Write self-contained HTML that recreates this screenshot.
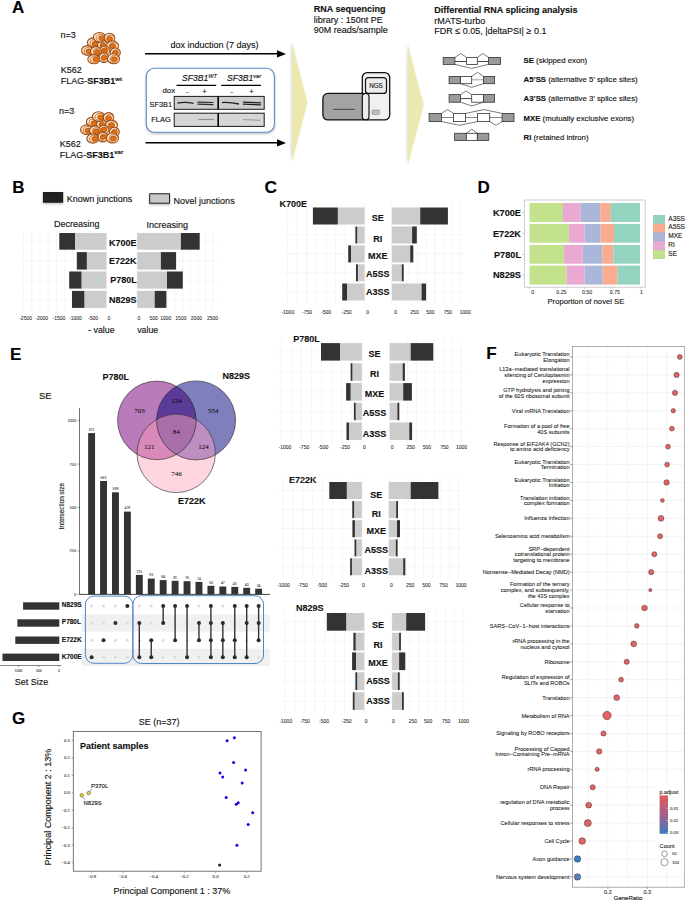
<!DOCTYPE html>
<html><head><meta charset="utf-8"><style>
html,body{margin:0;padding:0;background:#fff;}
body{width:685px;height:900px;overflow:hidden;}
svg{display:block;font-family:"Liberation Sans", sans-serif;}
svg text{stroke:#1a1a1a;stroke-width:0.14px;}
</style></head><body>
<svg width="685" height="900" viewBox="0 0 685 900">
<rect width="685" height="900" fill="#fff"/>
<defs><filter id="sh" x="-20%" y="-20%" width="140%" height="160%"><feDropShadow dx="0" dy="1.2" stdDeviation="0.9" flood-color="#000" flood-opacity="0.28"/></filter>
<filter id="shl" x="-30%" y="-5%" width="160%" height="110%"><feDropShadow dx="-1" dy="0" stdDeviation="1" flood-color="#556" flood-opacity="0.25"/></filter></defs>
<text x="12.00" y="13.30" font-size="17" font-weight="bold" fill="#000" style="stroke-width:0.140px">A</text>
<g transform="translate(0,0)">
<ellipse cx="93.4" cy="42.5" rx="6.0" ry="4.6" fill="#fde4cc" stroke="#9c4c12" stroke-width="1.1"/>
<ellipse cx="94.60000000000001" cy="43.0" rx="4.5" ry="3.4999999999999996" fill="#fcd8b8" stroke="#b05a1a" stroke-width="0.7"/>
<ellipse cx="95.1" cy="43.8" rx="2.9" ry="2.4" fill="#e8700c" stroke="#9c4c12" stroke-width="0.7"/>
<ellipse cx="103.0" cy="45.0" rx="5.5" ry="4.6" fill="#fde4cc" stroke="#9c4c12" stroke-width="1.1"/>
<ellipse cx="104.2" cy="45.5" rx="4.0" ry="3.4999999999999996" fill="#fcd8b8" stroke="#b05a1a" stroke-width="0.7"/>
<ellipse cx="103.2" cy="45.6" rx="2.9" ry="2.4" fill="#e8700c" stroke="#9c4c12" stroke-width="0.7"/>
<ellipse cx="99.5" cy="37.3" rx="6.1" ry="4.8" fill="#fde4cc" stroke="#9c4c12" stroke-width="1.1"/>
<ellipse cx="100.7" cy="37.8" rx="4.6" ry="3.6999999999999997" fill="#fcd8b8" stroke="#b05a1a" stroke-width="0.7"/>
<ellipse cx="101.7" cy="38.1" rx="2.9" ry="2.4" fill="#e8700c" stroke="#9c4c12" stroke-width="0.7"/>
<ellipse cx="109.6" cy="38.1" rx="5.2" ry="4.8" fill="#fde4cc" stroke="#9c4c12" stroke-width="1.1"/>
<ellipse cx="110.8" cy="38.6" rx="3.7" ry="3.6999999999999997" fill="#fcd8b8" stroke="#b05a1a" stroke-width="0.7"/>
<ellipse cx="109.6" cy="39.0" rx="2.9" ry="2.4" fill="#e8700c" stroke="#9c4c12" stroke-width="0.7"/>
<ellipse cx="112.6" cy="45.6" rx="6.0" ry="4.6" fill="#fde4cc" stroke="#9c4c12" stroke-width="1.1"/>
<ellipse cx="113.8" cy="46.1" rx="4.5" ry="3.4999999999999996" fill="#fcd8b8" stroke="#b05a1a" stroke-width="0.7"/>
<ellipse cx="112.6" cy="46.0" rx="2.9" ry="2.4" fill="#e8700c" stroke="#9c4c12" stroke-width="0.7"/>
<ellipse cx="104.8" cy="50.4" rx="5.0" ry="4.4" fill="#fde4cc" stroke="#9c4c12" stroke-width="1.1"/>
<ellipse cx="106.0" cy="50.9" rx="3.5" ry="3.3000000000000003" fill="#fcd8b8" stroke="#b05a1a" stroke-width="0.7"/>
<ellipse cx="104.8" cy="50.4" rx="2.9" ry="2.4" fill="#e8700c" stroke="#9c4c12" stroke-width="0.7"/>
<ellipse cx="115.3" cy="52.6" rx="5.0" ry="4.6" fill="#fde4cc" stroke="#9c4c12" stroke-width="1.1"/>
<ellipse cx="116.5" cy="53.1" rx="3.5" ry="3.4999999999999996" fill="#fcd8b8" stroke="#b05a1a" stroke-width="0.7"/>
<ellipse cx="115.3" cy="53.0" rx="2.9" ry="2.4" fill="#e8700c" stroke="#9c4c12" stroke-width="0.7"/>
<ellipse cx="87.3" cy="50.4" rx="5.7" ry="4.8" fill="#fde4cc" stroke="#9c4c12" stroke-width="1.1"/>
<ellipse cx="88.5" cy="50.9" rx="4.2" ry="3.6999999999999997" fill="#fcd8b8" stroke="#b05a1a" stroke-width="0.7"/>
<ellipse cx="89.0" cy="51.3" rx="2.9" ry="2.4" fill="#e8700c" stroke="#9c4c12" stroke-width="0.7"/>
<ellipse cx="96.0" cy="51.3" rx="5.5" ry="4.6" fill="#fde4cc" stroke="#9c4c12" stroke-width="1.1"/>
<ellipse cx="97.2" cy="51.8" rx="4.0" ry="3.4999999999999996" fill="#fcd8b8" stroke="#b05a1a" stroke-width="0.7"/>
<ellipse cx="97.3" cy="52.1" rx="2.9" ry="2.4" fill="#e8700c" stroke="#9c4c12" stroke-width="0.7"/>
<ellipse cx="103.9" cy="57.8" rx="5.0" ry="4.8" fill="#fde4cc" stroke="#9c4c12" stroke-width="1.1"/>
<ellipse cx="105.10000000000001" cy="58.3" rx="3.5" ry="3.6999999999999997" fill="#fcd8b8" stroke="#b05a1a" stroke-width="0.7"/>
<ellipse cx="104.2" cy="57.8" rx="2.9" ry="2.4" fill="#e8700c" stroke="#9c4c12" stroke-width="0.7"/>
<ellipse cx="93.8" cy="59.2" rx="6.0" ry="4.6" fill="#fde4cc" stroke="#9c4c12" stroke-width="1.1"/>
<ellipse cx="95.0" cy="59.7" rx="4.5" ry="3.4999999999999996" fill="#fcd8b8" stroke="#b05a1a" stroke-width="0.7"/>
<ellipse cx="96.0" cy="59.6" rx="2.9" ry="2.4" fill="#e8700c" stroke="#9c4c12" stroke-width="0.7"/>
<ellipse cx="113.5" cy="58.7" rx="6.0" ry="5.0" fill="#fde4cc" stroke="#9c4c12" stroke-width="1.1"/>
<ellipse cx="114.7" cy="59.2" rx="4.5" ry="3.9" fill="#fcd8b8" stroke="#b05a1a" stroke-width="0.7"/>
<ellipse cx="114.4" cy="59.2" rx="2.9" ry="2.4" fill="#e8700c" stroke="#9c4c12" stroke-width="0.7"/>
</g>
<g transform="translate(-1,79.3)">
<ellipse cx="93.4" cy="42.5" rx="6.0" ry="4.6" fill="#fde4cc" stroke="#9c4c12" stroke-width="1.1"/>
<ellipse cx="94.60000000000001" cy="43.0" rx="4.5" ry="3.4999999999999996" fill="#fcd8b8" stroke="#b05a1a" stroke-width="0.7"/>
<ellipse cx="95.1" cy="43.8" rx="2.9" ry="2.4" fill="#e8700c" stroke="#9c4c12" stroke-width="0.7"/>
<ellipse cx="103.0" cy="45.0" rx="5.5" ry="4.6" fill="#fde4cc" stroke="#9c4c12" stroke-width="1.1"/>
<ellipse cx="104.2" cy="45.5" rx="4.0" ry="3.4999999999999996" fill="#fcd8b8" stroke="#b05a1a" stroke-width="0.7"/>
<ellipse cx="103.2" cy="45.6" rx="2.9" ry="2.4" fill="#e8700c" stroke="#9c4c12" stroke-width="0.7"/>
<ellipse cx="99.5" cy="37.3" rx="6.1" ry="4.8" fill="#fde4cc" stroke="#9c4c12" stroke-width="1.1"/>
<ellipse cx="100.7" cy="37.8" rx="4.6" ry="3.6999999999999997" fill="#fcd8b8" stroke="#b05a1a" stroke-width="0.7"/>
<ellipse cx="101.7" cy="38.1" rx="2.9" ry="2.4" fill="#e8700c" stroke="#9c4c12" stroke-width="0.7"/>
<ellipse cx="109.6" cy="38.1" rx="5.2" ry="4.8" fill="#fde4cc" stroke="#9c4c12" stroke-width="1.1"/>
<ellipse cx="110.8" cy="38.6" rx="3.7" ry="3.6999999999999997" fill="#fcd8b8" stroke="#b05a1a" stroke-width="0.7"/>
<ellipse cx="109.6" cy="39.0" rx="2.9" ry="2.4" fill="#e8700c" stroke="#9c4c12" stroke-width="0.7"/>
<ellipse cx="112.6" cy="45.6" rx="6.0" ry="4.6" fill="#fde4cc" stroke="#9c4c12" stroke-width="1.1"/>
<ellipse cx="113.8" cy="46.1" rx="4.5" ry="3.4999999999999996" fill="#fcd8b8" stroke="#b05a1a" stroke-width="0.7"/>
<ellipse cx="112.6" cy="46.0" rx="2.9" ry="2.4" fill="#e8700c" stroke="#9c4c12" stroke-width="0.7"/>
<ellipse cx="104.8" cy="50.4" rx="5.0" ry="4.4" fill="#fde4cc" stroke="#9c4c12" stroke-width="1.1"/>
<ellipse cx="106.0" cy="50.9" rx="3.5" ry="3.3000000000000003" fill="#fcd8b8" stroke="#b05a1a" stroke-width="0.7"/>
<ellipse cx="104.8" cy="50.4" rx="2.9" ry="2.4" fill="#e8700c" stroke="#9c4c12" stroke-width="0.7"/>
<ellipse cx="115.3" cy="52.6" rx="5.0" ry="4.6" fill="#fde4cc" stroke="#9c4c12" stroke-width="1.1"/>
<ellipse cx="116.5" cy="53.1" rx="3.5" ry="3.4999999999999996" fill="#fcd8b8" stroke="#b05a1a" stroke-width="0.7"/>
<ellipse cx="115.3" cy="53.0" rx="2.9" ry="2.4" fill="#e8700c" stroke="#9c4c12" stroke-width="0.7"/>
<ellipse cx="87.3" cy="50.4" rx="5.7" ry="4.8" fill="#fde4cc" stroke="#9c4c12" stroke-width="1.1"/>
<ellipse cx="88.5" cy="50.9" rx="4.2" ry="3.6999999999999997" fill="#fcd8b8" stroke="#b05a1a" stroke-width="0.7"/>
<ellipse cx="89.0" cy="51.3" rx="2.9" ry="2.4" fill="#e8700c" stroke="#9c4c12" stroke-width="0.7"/>
<ellipse cx="96.0" cy="51.3" rx="5.5" ry="4.6" fill="#fde4cc" stroke="#9c4c12" stroke-width="1.1"/>
<ellipse cx="97.2" cy="51.8" rx="4.0" ry="3.4999999999999996" fill="#fcd8b8" stroke="#b05a1a" stroke-width="0.7"/>
<ellipse cx="97.3" cy="52.1" rx="2.9" ry="2.4" fill="#e8700c" stroke="#9c4c12" stroke-width="0.7"/>
<ellipse cx="103.9" cy="57.8" rx="5.0" ry="4.8" fill="#fde4cc" stroke="#9c4c12" stroke-width="1.1"/>
<ellipse cx="105.10000000000001" cy="58.3" rx="3.5" ry="3.6999999999999997" fill="#fcd8b8" stroke="#b05a1a" stroke-width="0.7"/>
<ellipse cx="104.2" cy="57.8" rx="2.9" ry="2.4" fill="#e8700c" stroke="#9c4c12" stroke-width="0.7"/>
<ellipse cx="93.8" cy="59.2" rx="6.0" ry="4.6" fill="#fde4cc" stroke="#9c4c12" stroke-width="1.1"/>
<ellipse cx="95.0" cy="59.7" rx="4.5" ry="3.4999999999999996" fill="#fcd8b8" stroke="#b05a1a" stroke-width="0.7"/>
<ellipse cx="96.0" cy="59.6" rx="2.9" ry="2.4" fill="#e8700c" stroke="#9c4c12" stroke-width="0.7"/>
<ellipse cx="113.5" cy="58.7" rx="6.0" ry="5.0" fill="#fde4cc" stroke="#9c4c12" stroke-width="1.1"/>
<ellipse cx="114.7" cy="59.2" rx="4.5" ry="3.9" fill="#fcd8b8" stroke="#b05a1a" stroke-width="0.7"/>
<ellipse cx="114.4" cy="59.2" rx="2.9" ry="2.4" fill="#e8700c" stroke="#9c4c12" stroke-width="0.7"/>
</g>
<text x="60.50" y="37.60" font-size="9" fill="#111" style="stroke-width:0.140px">n=3</text>
<text x="60.80" y="72.70" font-size="9" fill="#111" style="stroke-width:0.140px">K562</text>
<text x="60.8" y="84" font-size="9" fill="#111">FLAG-<tspan font-weight="bold">SF3B1</tspan><tspan font-size="6" dy="-3.3" font-weight="bold">wt</tspan></text>
<text x="59.10" y="113.80" font-size="9" fill="#111" style="stroke-width:0.140px">n=3</text>
<text x="59.70" y="146.70" font-size="9" fill="#111" style="stroke-width:0.140px">K562</text>
<text x="59.7" y="157.6" font-size="9" fill="#111">FLAG-<tspan font-weight="bold">SF3B1</tspan><tspan font-size="6" dy="-3.3" font-weight="bold">var</tspan></text>
<line x1="145.00" y1="53.80" x2="279.00" y2="53.80" stroke="#000" stroke-width="1.6"/>
<polygon points="277,50.3 286,54 277,57.6" fill="#000"/>
<line x1="145.50" y1="142.80" x2="279.00" y2="142.80" stroke="#000" stroke-width="1.6"/>
<polygon points="277,139.3 286,143 277,146.6" fill="#000"/>
<text x="170.40" y="48.20" font-size="9" fill="#111" style="stroke-width:0.140px">dox induction (7 days)</text>
<rect x="146.3" y="68.3" width="128.1" height="64" rx="8" fill="#fff" stroke="#5b8bc9" stroke-width="1.1" filter="url(#sh)"/>
<text x="182" y="81.4" font-size="8.6" font-style="italic" fill="#111">SF3B1<tspan font-size="5.6" dy="-3">WT</tspan></text>
<text x="227" y="81.4" font-size="8.6" font-style="italic" fill="#111">SF3B1<tspan font-size="5.6" dy="-3">var</tspan></text>
<line x1="176.50" y1="85.40" x2="216.20" y2="85.40" stroke="#000" stroke-width="1.3"/>
<line x1="221.20" y1="85.40" x2="261.00" y2="85.40" stroke="#000" stroke-width="1.3"/>
<text x="162.60" y="93.30" font-size="7.7" fill="#111" style="stroke-width:0.140px">dox</text>
<text x="187.30" y="94.20" font-size="7.7" text-anchor="middle" fill="#111" style="stroke-width:0.140px">-</text>
<text x="204.40" y="94.20" font-size="7.7" text-anchor="middle" fill="#111" style="stroke-width:0.140px">+</text>
<text x="231.70" y="94.20" font-size="7.7" text-anchor="middle" fill="#111" style="stroke-width:0.140px">-</text>
<text x="251.40" y="94.20" font-size="7.7" text-anchor="middle" fill="#111" style="stroke-width:0.140px">+</text>
<text x="149.50" y="107.30" font-size="7.4" fill="#111" style="stroke-width:0.140px">SF3B1</text>
<text x="151.20" y="122.40" font-size="7.6" fill="#111" style="stroke-width:0.140px">FLAG</text>
<rect x="174.2" y="96.4" width="90" height="12.899999999999991" fill="#cdcdcd" stroke="#1a1a1a" stroke-width="1"/>
<line x1="218.20" y1="96.40" x2="218.20" y2="109.30" stroke="#000" stroke-width="1.6"/>
<rect x="174.2" y="113.2" width="90" height="13.200000000000003" fill="#d6d6d6" stroke="#1a1a1a" stroke-width="1"/>
<line x1="218.20" y1="113.20" x2="218.20" y2="126.40" stroke="#000" stroke-width="1.6"/>
<path d="M177.5,103 Q186,101.6 193.5,103.4" stroke="#222" stroke-width="1.3" fill="none"/>
<path d="M197.5,102.1 L213.5,102.5 M197.5,104.1 L213.5,104.6" stroke="#2a2a2a" stroke-width="1.1" fill="none"/>
<path d="M222,102.6 Q230,102 239,104" stroke="#222" stroke-width="1.3" fill="none"/>
<path d="M243,102.1 L261,102.9 M243,104.1 L261,104.9" stroke="#1e1e1e" stroke-width="1.2" fill="none"/>
<path d="M198,119.6 L214,119.3" stroke="#777" stroke-width="0.8" fill="none"/>
<path d="M243,119.6 L260,120.3" stroke="#888" stroke-width="0.8" fill="none"/>
<polygon points="292.1,42.4 307.4,102.4 292.1,162" fill="#ebe9ae" filter="url(#shl)"/>
<polygon points="407.9,45.0 423.7,105 407.9,164.7" fill="#ebe9ae" filter="url(#shl)"/>
<text x="313.80" y="11.70" font-size="9" font-weight="bold" fill="#111" style="stroke-width:0.140px">RNA sequencing</text>
<text x="313.80" y="22.50" font-size="9" fill="#111" style="stroke-width:0.140px">library : 150nt PE</text>
<text x="313.80" y="33.20" font-size="9" fill="#111" style="stroke-width:0.140px">90M reads/sample</text>
<rect x="362.3" y="72.6" width="27.4" height="47.3" rx="5" fill="#f0f0f0" stroke="#111" stroke-width="1.3"/>
<rect x="365.5" y="77.6" width="21" height="15.8" rx="3" fill="#ececec" stroke="#111" stroke-width="1.2"/>
<text x="376.00" y="88.30" font-size="6.3" text-anchor="middle" fill="#222" style="stroke-width:0.140px">NGS</text>
<rect x="322.9" y="93.4" width="45" height="26.5" rx="5" fill="#a3a3a3" stroke="#111" stroke-width="1.3"/>
<rect x="362.3" y="93.4" width="6.7" height="26.5" rx="3.3" fill="#ececec" stroke="#111" stroke-width="1.2"/>
<line x1="333.10" y1="109.40" x2="355.00" y2="109.40" stroke="#555" stroke-width="1.2"/>
<rect x="372" y="110" width="7.6" height="4.6" rx="1" fill="#bdbdbd" stroke="#8a8a8a" stroke-width="0.6"/>
<text x="434.30" y="13.20" font-size="9" font-weight="bold" fill="#111" style="stroke-width:0.140px">Differential RNA splicing analysis</text>
<text x="434.30" y="24.20" font-size="9" fill="#111" style="stroke-width:0.140px">rMATS-turbo</text>
<text x="434.30" y="34.40" font-size="9" fill="#111" style="stroke-width:0.140px">FDR ≤ 0.05, |deltaPSI| ≥ 0.1</text>
<polyline points="454.9,61.5 466.6,61.5" fill="none" stroke="#333" stroke-width="0.9"/>
<polyline points="477.3,61.5 488.5,61.5" fill="none" stroke="#333" stroke-width="0.9"/>
<polyline points="454.9,57.4 460.7,53.5 466.6,57.4" fill="none" stroke="#444" stroke-width="0.7"/>
<polyline points="477.3,57.4 482.9,53.5 488.5,57.4" fill="none" stroke="#444" stroke-width="0.7"/>
<polyline points="454.9,64.4 471.7,68.4 488.5,64.4" fill="none" stroke="#444" stroke-width="0.7"/>
<rect x="443.2" y="57.4" width="11.70" height="7.00" fill="#9a9a9a" stroke="#333" stroke-width="0.8"/>
<rect x="466.6" y="57.4" width="10.70" height="7.00" fill="#fff" stroke="#333" stroke-width="0.8"/>
<rect x="488.5" y="57.4" width="12.00" height="7.00" fill="#9a9a9a" stroke="#333" stroke-width="0.8"/>
<polyline points="471.7,79.8 483.4,79.8" fill="none" stroke="#999" stroke-width="0.9"/>
<polyline points="471.7,76.4 477.5,72.3 483.4,76.4" fill="none" stroke="#444" stroke-width="0.7"/>
<polyline points="460.5,83.7 471.7,87.3 483.4,83.7" fill="none" stroke="#444" stroke-width="0.7"/>
<rect x="449.1" y="76.4" width="11.40" height="7.30" fill="#9a9a9a" stroke="#333" stroke-width="0.8"/>
<rect x="460.5" y="76.4" width="11.20" height="7.30" fill="#fff" stroke="#333" stroke-width="0.8"/>
<rect x="483.4" y="76.4" width="11.20" height="7.30" fill="#9a9a9a" stroke="#333" stroke-width="0.8"/>
<polyline points="460.5,98.6 471.7,98.6" fill="none" stroke="#333" stroke-width="0.9"/>
<polyline points="460.5,94.6 466.1,91.0 471.7,94.6" fill="none" stroke="#444" stroke-width="0.7"/>
<polyline points="460.5,102.2 471.9,106 483.4,102.2" fill="none" stroke="#444" stroke-width="0.7"/>
<rect x="449.1" y="94.6" width="11.40" height="7.60" fill="#9a9a9a" stroke="#333" stroke-width="0.8"/>
<rect x="471.7" y="94.6" width="11.70" height="7.60" fill="#fff" stroke="#333" stroke-width="0.8"/>
<rect x="483.4" y="94.6" width="11.20" height="7.60" fill="#9a9a9a" stroke="#333" stroke-width="0.8"/>
<polyline points="441.5,117.5 453.5,117.5" fill="none" stroke="#666" stroke-width="0.8"/>
<polyline points="465.6,117.5 477.6,117.5" fill="none" stroke="#666" stroke-width="0.8"/>
<polyline points="489.7,117.5 502.1,117.5" fill="none" stroke="#666" stroke-width="0.8"/>
<polyline points="441.5,113.4 447.5,109.6 453.5,113.4" fill="none" stroke="#444" stroke-width="0.7"/>
<polyline points="465.6,113.4 483.8,109.6 502.1,113.4" fill="none" stroke="#444" stroke-width="0.7"/>
<polyline points="441.5,121.6 459.5,125.3 477.6,121.6" fill="none" stroke="#444" stroke-width="0.7"/>
<polyline points="489.7,121.6 496,125.3 502.1,121.6" fill="none" stroke="#444" stroke-width="0.7"/>
<rect x="429.1" y="113.4" width="12.40" height="8.20" fill="#9a9a9a" stroke="#333" stroke-width="0.8"/>
<rect x="453.5" y="113.4" width="12.10" height="8.20" fill="#fff" stroke="#333" stroke-width="0.8"/>
<rect x="477.6" y="113.4" width="12.10" height="8.20" fill="#fff" stroke="#333" stroke-width="0.8"/>
<rect x="502.1" y="113.4" width="11.90" height="8.20" fill="#9a9a9a" stroke="#333" stroke-width="0.8"/>
<polyline points="466.3,133.3 471.8,129.2 477.3,133.3" fill="none" stroke="#444" stroke-width="0.7"/>
<rect x="454.6" y="133.3" width="11.70" height="7.10" fill="#9a9a9a" stroke="#333" stroke-width="0.8"/>
<rect x="466.3" y="133.3" width="11.00" height="7.10" fill="#fff" stroke="#333" stroke-width="0.8"/>
<rect x="477.3" y="133.3" width="11.50" height="7.10" fill="#9a9a9a" stroke="#333" stroke-width="0.8"/>
<text x="523.5" y="62.9" font-size="7.8" fill="#111"><tspan font-weight="bold">SE</tspan> (skipped exon)</text>
<text x="523.5" y="81.9" font-size="7.8" fill="#111"><tspan font-weight="bold">A5’SS</tspan> (alternative 5’ splice sites)</text>
<text x="523.5" y="101.2" font-size="7.8" fill="#111"><tspan font-weight="bold">A3’SS</tspan> (alternative 3’ splice sites)</text>
<text x="523.5" y="120.6" font-size="7.8" fill="#111"><tspan font-weight="bold">MXE</tspan> (mutually exclusive exons)</text>
<text x="523.5" y="140.1" font-size="7.8" fill="#111"><tspan font-weight="bold">RI</tspan> (retained intron)</text>
<text x="12.30" y="193.00" font-size="17" font-weight="bold" fill="#000" style="stroke-width:0.140px">B</text>
<rect x="43.3" y="192.4" width="19.5" height="9.8" fill="#242424" stroke="#000" stroke-width="0.7" filter="url(#sh)"/>
<text x="66.80" y="201.60" font-size="9" fill="#111" style="stroke-width:0.140px">Known junctions</text>
<rect x="149.7" y="193.8" width="19.8" height="9.4" fill="#c8c8c8" stroke="#222" stroke-width="1" filter="url(#sh)"/>
<text x="173.60" y="203.60" font-size="9" fill="#111" style="stroke-width:0.140px">Novel junctions</text>
<text x="54.10" y="226.60" font-size="9" fill="#111" style="stroke-width:0.140px">Decreasing</text>
<text x="146.60" y="227.70" font-size="9" fill="#111" style="stroke-width:0.140px">Increasing</text>
<line x1="106.40" y1="231.50" x2="106.40" y2="310.00" stroke="#ececec" stroke-width="0.5"/>
<line x1="98.10" y1="231.50" x2="98.10" y2="310.00" stroke="#ececec" stroke-width="0.5"/>
<line x1="89.80" y1="231.50" x2="89.80" y2="310.00" stroke="#ececec" stroke-width="0.5"/>
<line x1="81.50" y1="231.50" x2="81.50" y2="310.00" stroke="#ececec" stroke-width="0.5"/>
<line x1="73.20" y1="231.50" x2="73.20" y2="310.00" stroke="#ececec" stroke-width="0.5"/>
<line x1="64.90" y1="231.50" x2="64.90" y2="310.00" stroke="#ececec" stroke-width="0.5"/>
<line x1="56.60" y1="231.50" x2="56.60" y2="310.00" stroke="#ececec" stroke-width="0.5"/>
<line x1="48.30" y1="231.50" x2="48.30" y2="310.00" stroke="#ececec" stroke-width="0.5"/>
<line x1="40.00" y1="231.50" x2="40.00" y2="310.00" stroke="#ececec" stroke-width="0.5"/>
<line x1="31.70" y1="231.50" x2="31.70" y2="310.00" stroke="#ececec" stroke-width="0.5"/>
<line x1="23.40" y1="231.50" x2="23.40" y2="310.00" stroke="#ececec" stroke-width="0.5"/>
<line x1="137.20" y1="231.50" x2="137.20" y2="310.00" stroke="#ececec" stroke-width="0.5"/>
<line x1="144.80" y1="231.50" x2="144.80" y2="310.00" stroke="#ececec" stroke-width="0.5"/>
<line x1="152.40" y1="231.50" x2="152.40" y2="310.00" stroke="#ececec" stroke-width="0.5"/>
<line x1="160.00" y1="231.50" x2="160.00" y2="310.00" stroke="#ececec" stroke-width="0.5"/>
<line x1="167.60" y1="231.50" x2="167.60" y2="310.00" stroke="#ececec" stroke-width="0.5"/>
<line x1="175.20" y1="231.50" x2="175.20" y2="310.00" stroke="#ececec" stroke-width="0.5"/>
<line x1="182.80" y1="231.50" x2="182.80" y2="310.00" stroke="#ececec" stroke-width="0.5"/>
<line x1="190.40" y1="231.50" x2="190.40" y2="310.00" stroke="#ececec" stroke-width="0.5"/>
<line x1="198.00" y1="231.50" x2="198.00" y2="310.00" stroke="#ececec" stroke-width="0.5"/>
<line x1="205.60" y1="231.50" x2="205.60" y2="310.00" stroke="#ececec" stroke-width="0.5"/>
<line x1="213.20" y1="231.50" x2="213.20" y2="310.00" stroke="#ececec" stroke-width="0.5"/>
<line x1="19.50" y1="241.35" x2="106.40" y2="241.35" stroke="#ececec" stroke-width="0.5"/>
<line x1="137.20" y1="241.35" x2="218.00" y2="241.35" stroke="#ececec" stroke-width="0.5"/>
<line x1="19.50" y1="260.85" x2="106.40" y2="260.85" stroke="#ececec" stroke-width="0.5"/>
<line x1="137.20" y1="260.85" x2="218.00" y2="260.85" stroke="#ececec" stroke-width="0.5"/>
<line x1="19.50" y1="280.05" x2="106.40" y2="280.05" stroke="#ececec" stroke-width="0.5"/>
<line x1="137.20" y1="280.05" x2="218.00" y2="280.05" stroke="#ececec" stroke-width="0.5"/>
<line x1="19.50" y1="299.40" x2="106.40" y2="299.40" stroke="#ececec" stroke-width="0.5"/>
<line x1="137.20" y1="299.40" x2="218.00" y2="299.40" stroke="#ececec" stroke-width="0.5"/>
<rect x="59.30" y="233.00" width="15.80" height="16.70" fill="#333333"/>
<rect x="75.10" y="233.00" width="31.30" height="16.70" fill="#cccccc"/>
<rect x="137.20" y="233.00" width="43.70" height="16.70" fill="#cccccc"/>
<rect x="180.90" y="233.00" width="18.80" height="16.70" fill="#333333"/>
<rect x="76.80" y="252.10" width="10.10" height="17.50" fill="#333333"/>
<rect x="86.90" y="252.10" width="19.50" height="17.50" fill="#cccccc"/>
<rect x="137.20" y="252.10" width="23.70" height="17.50" fill="#cccccc"/>
<rect x="160.90" y="252.10" width="15.20" height="17.50" fill="#333333"/>
<rect x="69.20" y="271.50" width="12.50" height="17.10" fill="#333333"/>
<rect x="81.70" y="271.50" width="24.70" height="17.10" fill="#cccccc"/>
<rect x="137.20" y="271.50" width="29.80" height="17.10" fill="#cccccc"/>
<rect x="167.00" y="271.50" width="15.80" height="17.10" fill="#333333"/>
<rect x="72.00" y="290.90" width="12.60" height="17.00" fill="#333333"/>
<rect x="84.60" y="290.90" width="21.80" height="17.00" fill="#cccccc"/>
<rect x="137.20" y="290.90" width="17.50" height="17.00" fill="#cccccc"/>
<rect x="154.70" y="290.90" width="11.70" height="17.00" fill="#333333"/>
<text x="109.00" y="245.50" font-size="9" font-weight="bold" fill="#111" style="stroke-width:0.140px">K700E</text>
<text x="109.00" y="263.50" font-size="9" font-weight="bold" fill="#111" style="stroke-width:0.140px">E722K</text>
<text x="110.20" y="283.30" font-size="9" font-weight="bold" fill="#111" style="stroke-width:0.140px">P780L</text>
<text x="109.00" y="302.50" font-size="9" font-weight="bold" fill="#111" style="stroke-width:0.140px">N829S</text>
<text x="25.60" y="319.60" font-size="5" text-anchor="middle" fill="#333" style="stroke-width:0.080px">-2500</text>
<text x="41.70" y="319.60" font-size="5" text-anchor="middle" fill="#333" style="stroke-width:0.080px">-2000</text>
<text x="59.00" y="319.60" font-size="5" text-anchor="middle" fill="#333" style="stroke-width:0.080px">-1500</text>
<text x="75.50" y="319.60" font-size="5" text-anchor="middle" fill="#333" style="stroke-width:0.080px">-1000</text>
<text x="93.10" y="319.60" font-size="5" text-anchor="middle" fill="#333" style="stroke-width:0.080px">-500</text>
<text x="108.80" y="319.60" font-size="5" text-anchor="middle" fill="#333" style="stroke-width:0.080px">0</text>
<text x="138.90" y="319.60" font-size="5" text-anchor="middle" fill="#333" style="stroke-width:0.080px">0</text>
<text x="153.70" y="319.60" font-size="5" text-anchor="middle" fill="#333" style="stroke-width:0.080px">500</text>
<text x="165.70" y="319.60" font-size="5" text-anchor="middle" fill="#333" style="stroke-width:0.080px">1000</text>
<text x="180.90" y="319.60" font-size="5" text-anchor="middle" fill="#333" style="stroke-width:0.080px">1500</text>
<text x="196.40" y="319.60" font-size="5" text-anchor="middle" fill="#333" style="stroke-width:0.080px">2000</text>
<text x="212.60" y="319.60" font-size="5" text-anchor="middle" fill="#333" style="stroke-width:0.080px">2500</text>
<text x="88.20" y="332.70" font-size="8.8" fill="#111" style="stroke-width:0.140px">- value</text>
<text x="137.20" y="332.90" font-size="8.8" fill="#111" style="stroke-width:0.140px">value</text>
<text x="264.40" y="193.30" font-size="17.4" font-weight="bold" fill="#000" style="stroke-width:0.140px">C</text>
<text x="279.60" y="206.60" font-size="9" font-weight="bold" fill="#111" style="stroke-width:0.140px">K700E</text>
<line x1="364.60" y1="203.50" x2="364.60" y2="304.00" stroke="#ececec" stroke-width="0.5"/>
<line x1="391.80" y1="203.50" x2="391.80" y2="304.00" stroke="#ececec" stroke-width="0.5"/>
<line x1="354.95" y1="203.50" x2="354.95" y2="304.00" stroke="#ececec" stroke-width="0.5"/>
<line x1="400.40" y1="203.50" x2="400.40" y2="304.00" stroke="#ececec" stroke-width="0.5"/>
<line x1="345.30" y1="203.50" x2="345.30" y2="304.00" stroke="#ececec" stroke-width="0.5"/>
<line x1="409.00" y1="203.50" x2="409.00" y2="304.00" stroke="#ececec" stroke-width="0.5"/>
<line x1="335.65" y1="203.50" x2="335.65" y2="304.00" stroke="#ececec" stroke-width="0.5"/>
<line x1="417.60" y1="203.50" x2="417.60" y2="304.00" stroke="#ececec" stroke-width="0.5"/>
<line x1="326.00" y1="203.50" x2="326.00" y2="304.00" stroke="#ececec" stroke-width="0.5"/>
<line x1="426.20" y1="203.50" x2="426.20" y2="304.00" stroke="#ececec" stroke-width="0.5"/>
<line x1="316.35" y1="203.50" x2="316.35" y2="304.00" stroke="#ececec" stroke-width="0.5"/>
<line x1="434.80" y1="203.50" x2="434.80" y2="304.00" stroke="#ececec" stroke-width="0.5"/>
<line x1="306.70" y1="203.50" x2="306.70" y2="304.00" stroke="#ececec" stroke-width="0.5"/>
<line x1="443.40" y1="203.50" x2="443.40" y2="304.00" stroke="#ececec" stroke-width="0.5"/>
<line x1="297.05" y1="203.50" x2="297.05" y2="304.00" stroke="#ececec" stroke-width="0.5"/>
<line x1="452.00" y1="203.50" x2="452.00" y2="304.00" stroke="#ececec" stroke-width="0.5"/>
<line x1="287.40" y1="203.50" x2="287.40" y2="304.00" stroke="#ececec" stroke-width="0.5"/>
<line x1="460.60" y1="203.50" x2="460.60" y2="304.00" stroke="#ececec" stroke-width="0.5"/>
<line x1="283.40" y1="216.00" x2="367.60" y2="216.00" stroke="#ececec" stroke-width="0.5"/>
<line x1="388.80" y1="216.00" x2="464.60" y2="216.00" stroke="#ececec" stroke-width="0.5"/>
<line x1="283.40" y1="235.00" x2="367.60" y2="235.00" stroke="#ececec" stroke-width="0.5"/>
<line x1="388.80" y1="235.00" x2="464.60" y2="235.00" stroke="#ececec" stroke-width="0.5"/>
<line x1="283.40" y1="253.90" x2="367.60" y2="253.90" stroke="#ececec" stroke-width="0.5"/>
<line x1="388.80" y1="253.90" x2="464.60" y2="253.90" stroke="#ececec" stroke-width="0.5"/>
<line x1="283.40" y1="272.80" x2="367.60" y2="272.80" stroke="#ececec" stroke-width="0.5"/>
<line x1="388.80" y1="272.80" x2="464.60" y2="272.80" stroke="#ececec" stroke-width="0.5"/>
<line x1="283.40" y1="292.00" x2="367.60" y2="292.00" stroke="#ececec" stroke-width="0.5"/>
<line x1="388.80" y1="292.00" x2="464.60" y2="292.00" stroke="#ececec" stroke-width="0.5"/>
<rect x="337.80" y="207.50" width="26.80" height="17.00" fill="#cccccc"/>
<rect x="391.80" y="207.50" width="28.40" height="17.00" fill="#cccccc"/>
<rect x="312.90" y="207.50" width="24.90" height="17.00" fill="#333333"/>
<rect x="420.20" y="207.50" width="27.70" height="17.00" fill="#333333"/>
<rect x="357.20" y="226.50" width="7.40" height="17.00" fill="#cccccc"/>
<rect x="391.80" y="226.50" width="20.30" height="17.00" fill="#cccccc"/>
<rect x="355.40" y="226.50" width="1.80" height="17.00" fill="#333333"/>
<rect x="412.10" y="226.50" width="4.70" height="17.00" fill="#333333"/>
<rect x="351.00" y="245.40" width="13.60" height="17.00" fill="#cccccc"/>
<rect x="391.80" y="245.40" width="18.40" height="17.00" fill="#cccccc"/>
<rect x="348.20" y="245.40" width="2.80" height="17.00" fill="#333333"/>
<rect x="410.20" y="245.40" width="3.10" height="17.00" fill="#333333"/>
<rect x="357.90" y="264.30" width="6.70" height="17.00" fill="#cccccc"/>
<rect x="391.80" y="264.30" width="10.00" height="17.00" fill="#cccccc"/>
<rect x="356.00" y="264.30" width="1.90" height="17.00" fill="#333333"/>
<rect x="401.80" y="264.30" width="1.90" height="17.00" fill="#333333"/>
<rect x="347.00" y="283.50" width="17.60" height="17.00" fill="#cccccc"/>
<rect x="391.80" y="283.50" width="29.80" height="17.00" fill="#cccccc"/>
<rect x="342.20" y="283.50" width="4.80" height="17.00" fill="#333333"/>
<rect x="421.60" y="283.50" width="4.50" height="17.00" fill="#333333"/>
<text x="377.70" y="220.90" font-size="9" font-weight="bold" text-anchor="middle" fill="#111" style="stroke-width:0.140px">SE</text>
<text x="377.70" y="241.90" font-size="9" font-weight="bold" text-anchor="middle" fill="#111" style="stroke-width:0.140px">RI</text>
<text x="377.70" y="258.90" font-size="9" font-weight="bold" text-anchor="middle" fill="#111" style="stroke-width:0.140px">MXE</text>
<text x="377.70" y="277.30" font-size="9" font-weight="bold" text-anchor="middle" fill="#111" style="stroke-width:0.140px">A5SS</text>
<text x="377.70" y="295.20" font-size="9" font-weight="bold" text-anchor="middle" fill="#111" style="stroke-width:0.140px">A3SS</text>
<text x="287.80" y="313.80" font-size="5" text-anchor="middle" fill="#333" style="stroke-width:0.080px">-1000</text>
<text x="307.10" y="313.80" font-size="5" text-anchor="middle" fill="#333" style="stroke-width:0.080px">-750</text>
<text x="326.10" y="313.80" font-size="5" text-anchor="middle" fill="#333" style="stroke-width:0.080px">-500</text>
<text x="346.50" y="313.80" font-size="5" text-anchor="middle" fill="#333" style="stroke-width:0.080px">-250</text>
<text x="367.70" y="313.80" font-size="5" text-anchor="middle" fill="#333" style="stroke-width:0.080px">0</text>
<text x="395.60" y="313.80" font-size="5" text-anchor="middle" fill="#333" style="stroke-width:0.080px">0</text>
<text x="414.50" y="313.80" font-size="5" text-anchor="middle" fill="#333" style="stroke-width:0.080px">250</text>
<text x="430.30" y="313.80" font-size="5" text-anchor="middle" fill="#333" style="stroke-width:0.080px">500</text>
<text x="447.80" y="313.80" font-size="5" text-anchor="middle" fill="#333" style="stroke-width:0.080px">750</text>
<text x="465.30" y="313.80" font-size="5" text-anchor="middle" fill="#333" style="stroke-width:0.080px">1000</text>
<text x="293.20" y="342.40" font-size="9" font-weight="bold" fill="#111" style="stroke-width:0.140px">P780L</text>
<line x1="361.90" y1="339.10" x2="361.90" y2="443.50" stroke="#ececec" stroke-width="0.5"/>
<line x1="389.70" y1="339.10" x2="389.70" y2="443.50" stroke="#ececec" stroke-width="0.5"/>
<line x1="351.80" y1="339.10" x2="351.80" y2="443.50" stroke="#ececec" stroke-width="0.5"/>
<line x1="398.65" y1="339.10" x2="398.65" y2="443.50" stroke="#ececec" stroke-width="0.5"/>
<line x1="341.70" y1="339.10" x2="341.70" y2="443.50" stroke="#ececec" stroke-width="0.5"/>
<line x1="407.60" y1="339.10" x2="407.60" y2="443.50" stroke="#ececec" stroke-width="0.5"/>
<line x1="331.60" y1="339.10" x2="331.60" y2="443.50" stroke="#ececec" stroke-width="0.5"/>
<line x1="416.55" y1="339.10" x2="416.55" y2="443.50" stroke="#ececec" stroke-width="0.5"/>
<line x1="321.50" y1="339.10" x2="321.50" y2="443.50" stroke="#ececec" stroke-width="0.5"/>
<line x1="425.50" y1="339.10" x2="425.50" y2="443.50" stroke="#ececec" stroke-width="0.5"/>
<line x1="311.40" y1="339.10" x2="311.40" y2="443.50" stroke="#ececec" stroke-width="0.5"/>
<line x1="434.45" y1="339.10" x2="434.45" y2="443.50" stroke="#ececec" stroke-width="0.5"/>
<line x1="301.30" y1="339.10" x2="301.30" y2="443.50" stroke="#ececec" stroke-width="0.5"/>
<line x1="443.40" y1="339.10" x2="443.40" y2="443.50" stroke="#ececec" stroke-width="0.5"/>
<line x1="291.20" y1="339.10" x2="291.20" y2="443.50" stroke="#ececec" stroke-width="0.5"/>
<line x1="452.35" y1="339.10" x2="452.35" y2="443.50" stroke="#ececec" stroke-width="0.5"/>
<line x1="281.10" y1="339.10" x2="281.10" y2="443.50" stroke="#ececec" stroke-width="0.5"/>
<line x1="461.30" y1="339.10" x2="461.30" y2="443.50" stroke="#ececec" stroke-width="0.5"/>
<line x1="277.10" y1="351.85" x2="364.90" y2="351.85" stroke="#ececec" stroke-width="0.5"/>
<line x1="386.70" y1="351.85" x2="465.30" y2="351.85" stroke="#ececec" stroke-width="0.5"/>
<line x1="277.10" y1="372.05" x2="364.90" y2="372.05" stroke="#ececec" stroke-width="0.5"/>
<line x1="386.70" y1="372.05" x2="465.30" y2="372.05" stroke="#ececec" stroke-width="0.5"/>
<line x1="277.10" y1="391.85" x2="364.90" y2="391.85" stroke="#ececec" stroke-width="0.5"/>
<line x1="386.70" y1="391.85" x2="465.30" y2="391.85" stroke="#ececec" stroke-width="0.5"/>
<line x1="277.10" y1="411.45" x2="364.90" y2="411.45" stroke="#ececec" stroke-width="0.5"/>
<line x1="386.70" y1="411.45" x2="465.30" y2="411.45" stroke="#ececec" stroke-width="0.5"/>
<line x1="277.10" y1="431.25" x2="364.90" y2="431.25" stroke="#ececec" stroke-width="0.5"/>
<line x1="386.70" y1="431.25" x2="465.30" y2="431.25" stroke="#ececec" stroke-width="0.5"/>
<rect x="340.00" y="343.10" width="21.90" height="17.50" fill="#cccccc"/>
<rect x="389.70" y="343.10" width="21.00" height="17.50" fill="#cccccc"/>
<rect x="321.00" y="343.10" width="19.00" height="17.50" fill="#333333"/>
<rect x="410.70" y="343.10" width="22.60" height="17.50" fill="#333333"/>
<rect x="352.40" y="363.30" width="9.50" height="17.50" fill="#cccccc"/>
<rect x="389.70" y="363.30" width="13.00" height="17.50" fill="#cccccc"/>
<rect x="350.60" y="363.30" width="1.80" height="17.50" fill="#333333"/>
<rect x="402.70" y="363.30" width="2.20" height="17.50" fill="#333333"/>
<rect x="350.60" y="383.10" width="11.30" height="17.50" fill="#cccccc"/>
<rect x="389.70" y="383.10" width="13.50" height="17.50" fill="#cccccc"/>
<rect x="346.10" y="383.10" width="4.50" height="17.50" fill="#333333"/>
<rect x="403.20" y="383.10" width="8.70" height="17.50" fill="#333333"/>
<rect x="355.70" y="402.70" width="6.20" height="17.50" fill="#cccccc"/>
<rect x="389.70" y="402.70" width="7.70" height="17.50" fill="#cccccc"/>
<rect x="353.90" y="402.70" width="1.80" height="17.50" fill="#333333"/>
<rect x="397.40" y="402.70" width="1.90" height="17.50" fill="#333333"/>
<rect x="349.00" y="422.50" width="12.90" height="17.50" fill="#cccccc"/>
<rect x="389.70" y="422.50" width="19.60" height="17.50" fill="#cccccc"/>
<rect x="346.50" y="422.50" width="2.50" height="17.50" fill="#333333"/>
<rect x="409.30" y="422.50" width="2.80" height="17.50" fill="#333333"/>
<text x="374.60" y="356.60" font-size="9" font-weight="bold" text-anchor="middle" fill="#111" style="stroke-width:0.140px">SE</text>
<text x="374.60" y="377.00" font-size="9" font-weight="bold" text-anchor="middle" fill="#111" style="stroke-width:0.140px">RI</text>
<text x="374.60" y="396.90" font-size="9" font-weight="bold" text-anchor="middle" fill="#111" style="stroke-width:0.140px">MXE</text>
<text x="374.60" y="415.80" font-size="9" font-weight="bold" text-anchor="middle" fill="#111" style="stroke-width:0.140px">A5SS</text>
<text x="374.60" y="436.50" font-size="9" font-weight="bold" text-anchor="middle" fill="#111" style="stroke-width:0.140px">A3SS</text>
<text x="285.00" y="449.40" font-size="5" text-anchor="middle" fill="#333" style="stroke-width:0.080px">-1000</text>
<text x="304.20" y="449.40" font-size="5" text-anchor="middle" fill="#333" style="stroke-width:0.080px">-750</text>
<text x="323.20" y="449.40" font-size="5" text-anchor="middle" fill="#333" style="stroke-width:0.080px">-500</text>
<text x="345.00" y="449.40" font-size="5" text-anchor="middle" fill="#333" style="stroke-width:0.080px">-250</text>
<text x="364.30" y="449.40" font-size="5" text-anchor="middle" fill="#333" style="stroke-width:0.080px">0</text>
<text x="392.10" y="449.40" font-size="5" text-anchor="middle" fill="#333" style="stroke-width:0.080px">0</text>
<text x="410.70" y="449.40" font-size="5" text-anchor="middle" fill="#333" style="stroke-width:0.080px">250</text>
<text x="426.80" y="449.40" font-size="5" text-anchor="middle" fill="#333" style="stroke-width:0.080px">500</text>
<text x="444.30" y="449.40" font-size="5" text-anchor="middle" fill="#333" style="stroke-width:0.080px">750</text>
<text x="461.50" y="449.40" font-size="5" text-anchor="middle" fill="#333" style="stroke-width:0.080px">1000</text>
<text x="288.90" y="482.80" font-size="9" font-weight="bold" fill="#111" style="stroke-width:0.140px">E722K</text>
<line x1="361.90" y1="478.00" x2="361.90" y2="578.80" stroke="#ececec" stroke-width="0.5"/>
<line x1="388.80" y1="478.00" x2="388.80" y2="578.80" stroke="#ececec" stroke-width="0.5"/>
<line x1="352.05" y1="478.00" x2="352.05" y2="578.80" stroke="#ececec" stroke-width="0.5"/>
<line x1="397.50" y1="478.00" x2="397.50" y2="578.80" stroke="#ececec" stroke-width="0.5"/>
<line x1="342.20" y1="478.00" x2="342.20" y2="578.80" stroke="#ececec" stroke-width="0.5"/>
<line x1="406.20" y1="478.00" x2="406.20" y2="578.80" stroke="#ececec" stroke-width="0.5"/>
<line x1="332.35" y1="478.00" x2="332.35" y2="578.80" stroke="#ececec" stroke-width="0.5"/>
<line x1="414.90" y1="478.00" x2="414.90" y2="578.80" stroke="#ececec" stroke-width="0.5"/>
<line x1="322.50" y1="478.00" x2="322.50" y2="578.80" stroke="#ececec" stroke-width="0.5"/>
<line x1="423.60" y1="478.00" x2="423.60" y2="578.80" stroke="#ececec" stroke-width="0.5"/>
<line x1="312.65" y1="478.00" x2="312.65" y2="578.80" stroke="#ececec" stroke-width="0.5"/>
<line x1="432.30" y1="478.00" x2="432.30" y2="578.80" stroke="#ececec" stroke-width="0.5"/>
<line x1="302.80" y1="478.00" x2="302.80" y2="578.80" stroke="#ececec" stroke-width="0.5"/>
<line x1="441.00" y1="478.00" x2="441.00" y2="578.80" stroke="#ececec" stroke-width="0.5"/>
<line x1="292.95" y1="478.00" x2="292.95" y2="578.80" stroke="#ececec" stroke-width="0.5"/>
<line x1="449.70" y1="478.00" x2="449.70" y2="578.80" stroke="#ececec" stroke-width="0.5"/>
<line x1="283.10" y1="478.00" x2="283.10" y2="578.80" stroke="#ececec" stroke-width="0.5"/>
<line x1="458.40" y1="478.00" x2="458.40" y2="578.80" stroke="#ececec" stroke-width="0.5"/>
<line x1="279.10" y1="490.50" x2="364.90" y2="490.50" stroke="#ececec" stroke-width="0.5"/>
<line x1="385.80" y1="490.50" x2="462.40" y2="490.50" stroke="#ececec" stroke-width="0.5"/>
<line x1="279.10" y1="509.60" x2="364.90" y2="509.60" stroke="#ececec" stroke-width="0.5"/>
<line x1="385.80" y1="509.60" x2="462.40" y2="509.60" stroke="#ececec" stroke-width="0.5"/>
<line x1="279.10" y1="528.70" x2="364.90" y2="528.70" stroke="#ececec" stroke-width="0.5"/>
<line x1="385.80" y1="528.70" x2="462.40" y2="528.70" stroke="#ececec" stroke-width="0.5"/>
<line x1="279.10" y1="547.90" x2="364.90" y2="547.90" stroke="#ececec" stroke-width="0.5"/>
<line x1="385.80" y1="547.90" x2="462.40" y2="547.90" stroke="#ececec" stroke-width="0.5"/>
<line x1="279.10" y1="566.80" x2="364.90" y2="566.80" stroke="#ececec" stroke-width="0.5"/>
<line x1="385.80" y1="566.80" x2="462.40" y2="566.80" stroke="#ececec" stroke-width="0.5"/>
<rect x="346.80" y="482.00" width="15.10" height="17.00" fill="#cccccc"/>
<rect x="388.80" y="482.00" width="21.90" height="17.00" fill="#cccccc"/>
<rect x="329.30" y="482.00" width="17.50" height="17.00" fill="#333333"/>
<rect x="410.70" y="482.00" width="27.70" height="17.00" fill="#333333"/>
<rect x="354.10" y="501.10" width="7.80" height="17.00" fill="#cccccc"/>
<rect x="388.80" y="501.10" width="7.40" height="17.00" fill="#cccccc"/>
<rect x="352.30" y="501.10" width="1.80" height="17.00" fill="#333333"/>
<rect x="396.20" y="501.10" width="1.80" height="17.00" fill="#333333"/>
<rect x="354.90" y="520.20" width="7.00" height="17.00" fill="#cccccc"/>
<rect x="388.80" y="520.20" width="8.20" height="17.00" fill="#cccccc"/>
<rect x="352.40" y="520.20" width="2.50" height="17.00" fill="#333333"/>
<rect x="397.00" y="520.20" width="3.00" height="17.00" fill="#333333"/>
<rect x="356.30" y="539.40" width="5.60" height="17.00" fill="#cccccc"/>
<rect x="388.80" y="539.40" width="7.00" height="17.00" fill="#cccccc"/>
<rect x="354.50" y="539.40" width="1.80" height="17.00" fill="#333333"/>
<rect x="395.80" y="539.40" width="1.80" height="17.00" fill="#333333"/>
<rect x="351.90" y="558.30" width="10.00" height="17.00" fill="#cccccc"/>
<rect x="388.80" y="558.30" width="14.40" height="17.00" fill="#cccccc"/>
<rect x="350.10" y="558.30" width="1.80" height="17.00" fill="#333333"/>
<rect x="403.20" y="558.30" width="2.10" height="17.00" fill="#333333"/>
<text x="376.20" y="498.20" font-size="9" font-weight="bold" text-anchor="middle" fill="#111" style="stroke-width:0.140px">SE</text>
<text x="376.20" y="516.60" font-size="9" font-weight="bold" text-anchor="middle" fill="#111" style="stroke-width:0.140px">RI</text>
<text x="376.20" y="534.30" font-size="9" font-weight="bold" text-anchor="middle" fill="#111" style="stroke-width:0.140px">MXE</text>
<text x="376.20" y="553.20" font-size="9" font-weight="bold" text-anchor="middle" fill="#111" style="stroke-width:0.140px">A5SS</text>
<text x="376.20" y="574.20" font-size="9" font-weight="bold" text-anchor="middle" fill="#111" style="stroke-width:0.140px">A3SS</text>
<text x="283.40" y="587.10" font-size="5" text-anchor="middle" fill="#333" style="stroke-width:0.080px">-1000</text>
<text x="302.70" y="587.10" font-size="5" text-anchor="middle" fill="#333" style="stroke-width:0.080px">-750</text>
<text x="322.10" y="587.10" font-size="5" text-anchor="middle" fill="#333" style="stroke-width:0.080px">-500</text>
<text x="344.00" y="587.10" font-size="5" text-anchor="middle" fill="#333" style="stroke-width:0.080px">-250</text>
<text x="363.30" y="587.10" font-size="5" text-anchor="middle" fill="#333" style="stroke-width:0.080px">0</text>
<text x="391.30" y="587.10" font-size="5" text-anchor="middle" fill="#333" style="stroke-width:0.080px">0</text>
<text x="410.20" y="587.10" font-size="5" text-anchor="middle" fill="#333" style="stroke-width:0.080px">250</text>
<text x="426.30" y="587.10" font-size="5" text-anchor="middle" fill="#333" style="stroke-width:0.080px">500</text>
<text x="443.50" y="587.10" font-size="5" text-anchor="middle" fill="#333" style="stroke-width:0.080px">750</text>
<text x="461.00" y="587.10" font-size="5" text-anchor="middle" fill="#333" style="stroke-width:0.080px">1000</text>
<text x="295.90" y="610.50" font-size="9" font-weight="bold" fill="#111" style="stroke-width:0.140px">N829S</text>
<line x1="364.30" y1="609.00" x2="364.30" y2="713.40" stroke="#ececec" stroke-width="0.5"/>
<line x1="392.10" y1="609.00" x2="392.10" y2="713.40" stroke="#ececec" stroke-width="0.5"/>
<line x1="354.40" y1="609.00" x2="354.40" y2="713.40" stroke="#ececec" stroke-width="0.5"/>
<line x1="401.00" y1="609.00" x2="401.00" y2="713.40" stroke="#ececec" stroke-width="0.5"/>
<line x1="344.50" y1="609.00" x2="344.50" y2="713.40" stroke="#ececec" stroke-width="0.5"/>
<line x1="409.90" y1="609.00" x2="409.90" y2="713.40" stroke="#ececec" stroke-width="0.5"/>
<line x1="334.60" y1="609.00" x2="334.60" y2="713.40" stroke="#ececec" stroke-width="0.5"/>
<line x1="418.80" y1="609.00" x2="418.80" y2="713.40" stroke="#ececec" stroke-width="0.5"/>
<line x1="324.70" y1="609.00" x2="324.70" y2="713.40" stroke="#ececec" stroke-width="0.5"/>
<line x1="427.70" y1="609.00" x2="427.70" y2="713.40" stroke="#ececec" stroke-width="0.5"/>
<line x1="314.80" y1="609.00" x2="314.80" y2="713.40" stroke="#ececec" stroke-width="0.5"/>
<line x1="436.60" y1="609.00" x2="436.60" y2="713.40" stroke="#ececec" stroke-width="0.5"/>
<line x1="304.90" y1="609.00" x2="304.90" y2="713.40" stroke="#ececec" stroke-width="0.5"/>
<line x1="445.50" y1="609.00" x2="445.50" y2="713.40" stroke="#ececec" stroke-width="0.5"/>
<line x1="295.00" y1="609.00" x2="295.00" y2="713.40" stroke="#ececec" stroke-width="0.5"/>
<line x1="454.40" y1="609.00" x2="454.40" y2="713.40" stroke="#ececec" stroke-width="0.5"/>
<line x1="285.10" y1="609.00" x2="285.10" y2="713.40" stroke="#ececec" stroke-width="0.5"/>
<line x1="463.30" y1="609.00" x2="463.30" y2="713.40" stroke="#ececec" stroke-width="0.5"/>
<line x1="281.10" y1="621.85" x2="367.30" y2="621.85" stroke="#ececec" stroke-width="0.5"/>
<line x1="389.10" y1="621.85" x2="467.30" y2="621.85" stroke="#ececec" stroke-width="0.5"/>
<line x1="281.10" y1="641.65" x2="367.30" y2="641.65" stroke="#ececec" stroke-width="0.5"/>
<line x1="389.10" y1="641.65" x2="467.30" y2="641.65" stroke="#ececec" stroke-width="0.5"/>
<line x1="281.10" y1="661.25" x2="367.30" y2="661.25" stroke="#ececec" stroke-width="0.5"/>
<line x1="389.10" y1="661.25" x2="467.30" y2="661.25" stroke="#ececec" stroke-width="0.5"/>
<line x1="281.10" y1="681.15" x2="367.30" y2="681.15" stroke="#ececec" stroke-width="0.5"/>
<line x1="389.10" y1="681.15" x2="467.30" y2="681.15" stroke="#ececec" stroke-width="0.5"/>
<line x1="281.10" y1="701.05" x2="367.30" y2="701.05" stroke="#ececec" stroke-width="0.5"/>
<line x1="389.10" y1="701.05" x2="467.30" y2="701.05" stroke="#ececec" stroke-width="0.5"/>
<rect x="346.20" y="613.00" width="18.10" height="17.70" fill="#cccccc"/>
<rect x="392.10" y="613.00" width="14.10" height="17.70" fill="#cccccc"/>
<rect x="326.80" y="613.00" width="19.40" height="17.70" fill="#333333"/>
<rect x="406.20" y="613.00" width="18.90" height="17.70" fill="#333333"/>
<rect x="355.70" y="632.80" width="8.60" height="17.70" fill="#cccccc"/>
<rect x="392.10" y="632.80" width="7.00" height="17.70" fill="#cccccc"/>
<rect x="353.40" y="632.80" width="2.30" height="17.70" fill="#333333"/>
<rect x="399.10" y="632.80" width="1.80" height="17.70" fill="#333333"/>
<rect x="356.00" y="652.40" width="8.30" height="17.70" fill="#cccccc"/>
<rect x="392.10" y="652.40" width="7.00" height="17.70" fill="#cccccc"/>
<rect x="352.10" y="652.40" width="3.90" height="17.70" fill="#333333"/>
<rect x="399.10" y="652.40" width="6.20" height="17.70" fill="#333333"/>
<rect x="357.20" y="672.30" width="7.10" height="17.70" fill="#cccccc"/>
<rect x="392.10" y="672.30" width="5.80" height="17.70" fill="#cccccc"/>
<rect x="355.40" y="672.30" width="1.80" height="17.70" fill="#333333"/>
<rect x="397.90" y="672.30" width="1.80" height="17.70" fill="#333333"/>
<rect x="354.60" y="692.20" width="9.70" height="17.70" fill="#cccccc"/>
<rect x="392.10" y="692.20" width="9.90" height="17.70" fill="#cccccc"/>
<rect x="352.80" y="692.20" width="1.80" height="17.70" fill="#333333"/>
<rect x="402.00" y="692.20" width="1.80" height="17.70" fill="#333333"/>
<text x="378.10" y="627.80" font-size="9" font-weight="bold" text-anchor="middle" fill="#111" style="stroke-width:0.140px">SE</text>
<text x="378.10" y="647.60" font-size="9" font-weight="bold" text-anchor="middle" fill="#111" style="stroke-width:0.140px">RI</text>
<text x="378.10" y="666.30" font-size="9" font-weight="bold" text-anchor="middle" fill="#111" style="stroke-width:0.140px">MXE</text>
<text x="378.10" y="684.40" font-size="9" font-weight="bold" text-anchor="middle" fill="#111" style="stroke-width:0.140px">A5SS</text>
<text x="378.10" y="704.00" font-size="9" font-weight="bold" text-anchor="middle" fill="#111" style="stroke-width:0.140px">A3SS</text>
<text x="285.80" y="722.50" font-size="5" text-anchor="middle" fill="#333" style="stroke-width:0.080px">-1000</text>
<text x="304.90" y="722.50" font-size="5" text-anchor="middle" fill="#333" style="stroke-width:0.080px">-750</text>
<text x="324.00" y="722.50" font-size="5" text-anchor="middle" fill="#333" style="stroke-width:0.080px">-500</text>
<text x="346.50" y="722.50" font-size="5" text-anchor="middle" fill="#333" style="stroke-width:0.080px">-250</text>
<text x="366.20" y="722.50" font-size="5" text-anchor="middle" fill="#333" style="stroke-width:0.080px">0</text>
<text x="393.50" y="722.50" font-size="5" text-anchor="middle" fill="#333" style="stroke-width:0.080px">0</text>
<text x="412.80" y="722.50" font-size="5" text-anchor="middle" fill="#333" style="stroke-width:0.080px">250</text>
<text x="428.20" y="722.50" font-size="5" text-anchor="middle" fill="#333" style="stroke-width:0.080px">500</text>
<text x="446.10" y="722.50" font-size="5" text-anchor="middle" fill="#333" style="stroke-width:0.080px">750</text>
<text x="463.60" y="722.50" font-size="5" text-anchor="middle" fill="#333" style="stroke-width:0.080px">1000</text>
<text x="477.60" y="193.40" font-size="17" font-weight="bold" fill="#000" style="stroke-width:0.140px">D</text>
<rect x="524.4" y="200.0" width="120.8" height="87.2" fill="#fff" stroke="#c8c8c8" stroke-width="0.9"/>
<rect x="529.60" y="203.00" width="33.30" height="19.00" fill="#c2e28c"/>
<rect x="562.90" y="203.00" width="17.80" height="19.00" fill="#eaa9d3"/>
<rect x="580.70" y="203.00" width="19.50" height="19.00" fill="#abb7da"/>
<rect x="600.20" y="203.00" width="10.60" height="19.00" fill="#f9ad90"/>
<rect x="610.80" y="203.00" width="29.20" height="19.00" fill="#94d3bf"/>
<text x="521.00" y="215.80" font-size="9.2" font-weight="bold" text-anchor="end" fill="#111" style="stroke-width:0.140px">K700E</text>
<line x1="522.20" y1="212.50" x2="524.40" y2="212.50" stroke="#999" stroke-width="0.5"/>
<rect x="529.60" y="223.90" width="39.30" height="18.80" fill="#c2e28c"/>
<rect x="568.90" y="223.90" width="15.70" height="18.80" fill="#eaa9d3"/>
<rect x="584.60" y="223.90" width="16.10" height="18.80" fill="#abb7da"/>
<rect x="600.70" y="223.90" width="13.30" height="18.80" fill="#f9ad90"/>
<rect x="614.00" y="223.90" width="26.00" height="18.80" fill="#94d3bf"/>
<text x="521.00" y="236.60" font-size="9.2" font-weight="bold" text-anchor="end" fill="#111" style="stroke-width:0.140px">E722K</text>
<line x1="522.20" y1="233.30" x2="524.40" y2="233.30" stroke="#999" stroke-width="0.5"/>
<rect x="529.60" y="244.90" width="34.50" height="18.80" fill="#c2e28c"/>
<rect x="564.10" y="244.90" width="18.60" height="18.80" fill="#eaa9d3"/>
<rect x="582.70" y="244.90" width="19.70" height="18.80" fill="#abb7da"/>
<rect x="602.40" y="244.90" width="11.10" height="18.80" fill="#f9ad90"/>
<rect x="613.50" y="244.90" width="26.50" height="18.80" fill="#94d3bf"/>
<text x="521.00" y="257.60" font-size="9.2" font-weight="bold" text-anchor="end" fill="#111" style="stroke-width:0.140px">P780L</text>
<line x1="522.20" y1="254.30" x2="524.40" y2="254.30" stroke="#999" stroke-width="0.5"/>
<rect x="529.60" y="265.60" width="36.90" height="19.00" fill="#c2e28c"/>
<rect x="566.50" y="265.60" width="18.10" height="19.00" fill="#eaa9d3"/>
<rect x="584.60" y="265.60" width="18.10" height="19.00" fill="#abb7da"/>
<rect x="602.70" y="265.60" width="14.90" height="19.00" fill="#f9ad90"/>
<rect x="617.60" y="265.60" width="22.40" height="19.00" fill="#94d3bf"/>
<text x="521.00" y="278.40" font-size="9.2" font-weight="bold" text-anchor="end" fill="#111" style="stroke-width:0.140px">N829S</text>
<line x1="522.20" y1="275.10" x2="524.40" y2="275.10" stroke="#999" stroke-width="0.5"/>
<text x="532.70" y="294.00" font-size="5.2" text-anchor="middle" fill="#333" style="stroke-width:0.083px">0</text>
<text x="561.40" y="294.00" font-size="5.2" text-anchor="middle" fill="#333" style="stroke-width:0.083px">0.25</text>
<text x="587.00" y="294.00" font-size="5.2" text-anchor="middle" fill="#333" style="stroke-width:0.083px">0.50</text>
<text x="614.90" y="294.00" font-size="5.2" text-anchor="middle" fill="#333" style="stroke-width:0.083px">0.75</text>
<text x="641.50" y="294.00" font-size="5.2" text-anchor="middle" fill="#333" style="stroke-width:0.083px">1</text>
<line x1="529.60" y1="287.20" x2="529.60" y2="288.80" stroke="#999" stroke-width="0.5"/>
<line x1="557.20" y1="287.20" x2="557.20" y2="288.80" stroke="#999" stroke-width="0.5"/>
<line x1="584.80" y1="287.20" x2="584.80" y2="288.80" stroke="#999" stroke-width="0.5"/>
<line x1="612.40" y1="287.20" x2="612.40" y2="288.80" stroke="#999" stroke-width="0.5"/>
<line x1="640.00" y1="287.20" x2="640.00" y2="288.80" stroke="#999" stroke-width="0.5"/>
<text x="585.90" y="304.10" font-size="7.7" text-anchor="middle" fill="#222" style="stroke-width:0.140px">Proportion of novel SE</text>
<rect x="653.4" y="215.30" width="11.3" height="8.2" fill="#94d3bf" stroke="#7cc7ae" stroke-width="0.6"/>
<text x="668.30" y="220.60" font-size="6.5" fill="#222" style="stroke-width:0.140px">A3SS</text>
<rect x="653.4" y="224.10" width="11.3" height="8.2" fill="#f9ad90" stroke="#f39670" stroke-width="0.6"/>
<text x="668.30" y="229.40" font-size="6.5" fill="#222" style="stroke-width:0.140px">A5SS</text>
<rect x="653.4" y="232.90" width="11.3" height="8.2" fill="#abb7da" stroke="#95a5d1" stroke-width="0.6"/>
<text x="668.30" y="238.20" font-size="6.5" fill="#222" style="stroke-width:0.140px">MXE</text>
<rect x="653.4" y="241.70" width="11.3" height="8.2" fill="#eaa9d3" stroke="#e294c7" stroke-width="0.6"/>
<text x="668.30" y="247.00" font-size="6.5" fill="#222" style="stroke-width:0.140px">RI</text>
<rect x="653.4" y="250.50" width="11.3" height="8.2" fill="#c2e28c" stroke="#afd870" stroke-width="0.6"/>
<text x="668.30" y="255.80" font-size="6.5" fill="#222" style="stroke-width:0.140px">SE</text>
<text x="9.90" y="359.90" font-size="17" font-weight="bold" fill="#000" style="stroke-width:0.140px">E</text>
<text x="38.90" y="399.40" font-size="9.6" fill="#111" style="stroke-width:0.140px">SE</text>
<line x1="79.50" y1="408.00" x2="79.50" y2="594.40" stroke="#333" stroke-width="0.7"/>
<line x1="79.50" y1="594.40" x2="270.10" y2="594.40" stroke="#333" stroke-width="0.9"/>
<line x1="77.60" y1="420.40" x2="79.50" y2="420.40" stroke="#333" stroke-width="0.5"/>
<text x="76.30" y="421.80" font-size="4.0" text-anchor="end" fill="#444" style="stroke-width:0.064px">1000</text>
<line x1="77.60" y1="464.20" x2="79.50" y2="464.20" stroke="#333" stroke-width="0.5"/>
<text x="76.30" y="465.60" font-size="4.0" text-anchor="end" fill="#444" style="stroke-width:0.064px">750</text>
<line x1="77.60" y1="507.50" x2="79.50" y2="507.50" stroke="#333" stroke-width="0.5"/>
<text x="76.30" y="508.90" font-size="4.0" text-anchor="end" fill="#444" style="stroke-width:0.064px">500</text>
<line x1="77.60" y1="551.00" x2="79.50" y2="551.00" stroke="#333" stroke-width="0.5"/>
<text x="76.30" y="552.40" font-size="4.0" text-anchor="end" fill="#444" style="stroke-width:0.064px">250</text>
<line x1="77.60" y1="594.40" x2="79.50" y2="594.40" stroke="#333" stroke-width="0.5"/>
<text x="76.30" y="595.80" font-size="4.0" text-anchor="end" fill="#444" style="stroke-width:0.064px">0</text>
<text transform="translate(64.1,506.1) rotate(-90)" font-size="6.4" text-anchor="middle" fill="#222">Intersection size</text>
<rect x="81.70" y="614.40" width="188.10" height="17.20" fill="#f0f0f0"/>
<rect x="81.70" y="648.70" width="188.10" height="17.20" fill="#f0f0f0"/>
<rect x="88.15" y="433.10" width="6.90" height="161.30" fill="#333333"/>
<text x="91.60" y="430.90" font-size="3.5" text-anchor="middle" fill="#444" style="stroke-width:0.056px">921</text>
<rect x="100.08" y="481.00" width="6.90" height="113.40" fill="#333333"/>
<text x="103.53" y="478.80" font-size="3.5" text-anchor="middle" fill="#444" style="stroke-width:0.056px">663</text>
<rect x="112.01" y="492.30" width="6.90" height="102.10" fill="#333333"/>
<text x="115.46" y="490.10" font-size="3.5" text-anchor="middle" fill="#444" style="stroke-width:0.056px">588</text>
<rect x="123.94" y="511.60" width="6.90" height="82.80" fill="#333333"/>
<text x="127.39" y="509.40" font-size="3.5" text-anchor="middle" fill="#444" style="stroke-width:0.056px">478</text>
<rect x="135.87" y="574.90" width="6.90" height="19.50" fill="#333333"/>
<text x="139.32" y="572.70" font-size="3.5" text-anchor="middle" fill="#444" style="stroke-width:0.056px">115</text>
<rect x="147.80" y="578.60" width="6.90" height="15.80" fill="#333333"/>
<text x="151.25" y="576.40" font-size="3.5" text-anchor="middle" fill="#444" style="stroke-width:0.056px">93</text>
<rect x="159.73" y="580.10" width="6.90" height="14.30" fill="#333333"/>
<text x="163.18" y="577.90" font-size="3.5" text-anchor="middle" fill="#444" style="stroke-width:0.056px">84</text>
<rect x="171.66" y="580.80" width="6.90" height="13.60" fill="#333333"/>
<text x="175.11" y="578.60" font-size="3.5" text-anchor="middle" fill="#444" style="stroke-width:0.056px">81</text>
<rect x="183.59" y="581.20" width="6.90" height="13.20" fill="#333333"/>
<text x="187.04" y="579.00" font-size="3.5" text-anchor="middle" fill="#444" style="stroke-width:0.056px">76</text>
<rect x="195.52" y="581.90" width="6.90" height="12.50" fill="#333333"/>
<text x="198.97" y="579.70" font-size="3.5" text-anchor="middle" fill="#444" style="stroke-width:0.056px">74</text>
<rect x="207.45" y="585.80" width="6.90" height="8.60" fill="#333333"/>
<text x="210.90" y="583.60" font-size="3.5" text-anchor="middle" fill="#444" style="stroke-width:0.056px">50</text>
<rect x="219.38" y="586.50" width="6.90" height="7.90" fill="#333333"/>
<text x="222.83" y="584.30" font-size="3.5" text-anchor="middle" fill="#444" style="stroke-width:0.056px">47</text>
<rect x="231.31" y="586.90" width="6.90" height="7.50" fill="#333333"/>
<text x="234.76" y="584.70" font-size="3.5" text-anchor="middle" fill="#444" style="stroke-width:0.056px">43</text>
<rect x="243.24" y="587.80" width="6.90" height="6.60" fill="#333333"/>
<text x="246.69" y="585.60" font-size="3.5" text-anchor="middle" fill="#444" style="stroke-width:0.056px">40</text>
<rect x="255.17" y="588.70" width="6.90" height="5.70" fill="#333333"/>
<text x="258.62" y="586.50" font-size="3.5" text-anchor="middle" fill="#444" style="stroke-width:0.056px">34</text>
<circle cx="91.60" cy="606.0" r="1.5" fill="#dcdcdc"/>
<circle cx="91.60" cy="623.0" r="1.5" fill="#dcdcdc"/>
<circle cx="91.60" cy="640.2" r="1.5" fill="#dcdcdc"/>
<circle cx="91.60" cy="657.3" r="2.0" fill="#2b2b2b"/>
<circle cx="103.53" cy="606.0" r="1.5" fill="#dcdcdc"/>
<circle cx="103.53" cy="623.0" r="1.5" fill="#dcdcdc"/>
<circle cx="103.53" cy="657.3" r="1.5" fill="#dcdcdc"/>
<circle cx="103.53" cy="640.2" r="2.0" fill="#2b2b2b"/>
<circle cx="115.46" cy="606.0" r="1.5" fill="#dcdcdc"/>
<circle cx="115.46" cy="640.2" r="1.5" fill="#dcdcdc"/>
<circle cx="115.46" cy="657.3" r="1.5" fill="#dcdcdc"/>
<circle cx="115.46" cy="623.0" r="2.0" fill="#2b2b2b"/>
<circle cx="127.39" cy="623.0" r="1.5" fill="#dcdcdc"/>
<circle cx="127.39" cy="640.2" r="1.5" fill="#dcdcdc"/>
<circle cx="127.39" cy="657.3" r="1.5" fill="#dcdcdc"/>
<circle cx="127.39" cy="606.0" r="2.0" fill="#2b2b2b"/>
<circle cx="139.32" cy="606.0" r="1.5" fill="#dcdcdc"/>
<circle cx="139.32" cy="640.2" r="1.5" fill="#dcdcdc"/>
<line x1="139.32" y1="623.00" x2="139.32" y2="657.30" stroke="#333" stroke-width="1.4"/>
<circle cx="139.32" cy="623.0" r="2.0" fill="#2b2b2b"/>
<circle cx="139.32" cy="657.3" r="2.0" fill="#2b2b2b"/>
<circle cx="151.25" cy="606.0" r="1.5" fill="#dcdcdc"/>
<circle cx="151.25" cy="623.0" r="1.5" fill="#dcdcdc"/>
<line x1="151.25" y1="640.20" x2="151.25" y2="657.30" stroke="#333" stroke-width="1.4"/>
<circle cx="151.25" cy="640.2" r="2.0" fill="#2b2b2b"/>
<circle cx="151.25" cy="657.3" r="2.0" fill="#2b2b2b"/>
<circle cx="163.18" cy="640.2" r="1.5" fill="#dcdcdc"/>
<circle cx="163.18" cy="657.3" r="1.5" fill="#dcdcdc"/>
<line x1="163.18" y1="606.00" x2="163.18" y2="623.00" stroke="#333" stroke-width="1.4"/>
<circle cx="163.18" cy="606.0" r="2.0" fill="#2b2b2b"/>
<circle cx="163.18" cy="623.0" r="2.0" fill="#2b2b2b"/>
<circle cx="175.11" cy="623.0" r="1.5" fill="#dcdcdc"/>
<circle cx="175.11" cy="657.3" r="1.5" fill="#dcdcdc"/>
<line x1="175.11" y1="606.00" x2="175.11" y2="640.20" stroke="#333" stroke-width="1.4"/>
<circle cx="175.11" cy="606.0" r="2.0" fill="#2b2b2b"/>
<circle cx="175.11" cy="640.2" r="2.0" fill="#2b2b2b"/>
<circle cx="187.04" cy="623.0" r="1.5" fill="#dcdcdc"/>
<circle cx="187.04" cy="640.2" r="1.5" fill="#dcdcdc"/>
<line x1="187.04" y1="606.00" x2="187.04" y2="657.30" stroke="#333" stroke-width="1.4"/>
<circle cx="187.04" cy="606.0" r="2.0" fill="#2b2b2b"/>
<circle cx="187.04" cy="657.3" r="2.0" fill="#2b2b2b"/>
<circle cx="198.97" cy="606.0" r="1.5" fill="#dcdcdc"/>
<circle cx="198.97" cy="657.3" r="1.5" fill="#dcdcdc"/>
<line x1="198.97" y1="623.00" x2="198.97" y2="640.20" stroke="#333" stroke-width="1.4"/>
<circle cx="198.97" cy="623.0" r="2.0" fill="#2b2b2b"/>
<circle cx="198.97" cy="640.2" r="2.0" fill="#2b2b2b"/>
<line x1="210.90" y1="606.00" x2="210.90" y2="657.30" stroke="#333" stroke-width="1.4"/>
<circle cx="210.90" cy="606.0" r="2.0" fill="#2b2b2b"/>
<circle cx="210.90" cy="623.0" r="2.0" fill="#2b2b2b"/>
<circle cx="210.90" cy="640.2" r="2.0" fill="#2b2b2b"/>
<circle cx="210.90" cy="657.3" r="2.0" fill="#2b2b2b"/>
<circle cx="222.83" cy="606.0" r="1.5" fill="#dcdcdc"/>
<line x1="222.83" y1="623.00" x2="222.83" y2="657.30" stroke="#333" stroke-width="1.4"/>
<circle cx="222.83" cy="623.0" r="2.0" fill="#2b2b2b"/>
<circle cx="222.83" cy="640.2" r="2.0" fill="#2b2b2b"/>
<circle cx="222.83" cy="657.3" r="2.0" fill="#2b2b2b"/>
<circle cx="234.76" cy="623.0" r="1.5" fill="#dcdcdc"/>
<line x1="234.76" y1="606.00" x2="234.76" y2="657.30" stroke="#333" stroke-width="1.4"/>
<circle cx="234.76" cy="606.0" r="2.0" fill="#2b2b2b"/>
<circle cx="234.76" cy="640.2" r="2.0" fill="#2b2b2b"/>
<circle cx="234.76" cy="657.3" r="2.0" fill="#2b2b2b"/>
<circle cx="246.69" cy="640.2" r="1.5" fill="#dcdcdc"/>
<line x1="246.69" y1="606.00" x2="246.69" y2="657.30" stroke="#333" stroke-width="1.4"/>
<circle cx="246.69" cy="606.0" r="2.0" fill="#2b2b2b"/>
<circle cx="246.69" cy="623.0" r="2.0" fill="#2b2b2b"/>
<circle cx="246.69" cy="657.3" r="2.0" fill="#2b2b2b"/>
<circle cx="258.62" cy="657.3" r="1.5" fill="#dcdcdc"/>
<line x1="258.62" y1="606.00" x2="258.62" y2="640.20" stroke="#333" stroke-width="1.4"/>
<circle cx="258.62" cy="606.0" r="2.0" fill="#2b2b2b"/>
<circle cx="258.62" cy="623.0" r="2.0" fill="#2b2b2b"/>
<circle cx="258.62" cy="640.2" r="2.0" fill="#2b2b2b"/>
<rect x="85.4" y="596.1" width="47.4" height="67.2" rx="8.5" fill="none" stroke="#4f86c6" stroke-width="1"/>
<rect x="132.9" y="595.7" width="130.6" height="67.8" rx="8.5" fill="none" stroke="#4f86c6" stroke-width="1"/>
<rect x="23.10" y="602.30" width="36.20" height="7.40" fill="#333333"/>
<text x="61.80" y="607.40" font-size="6.5" font-weight="bold" fill="#111" style="stroke-width:0.140px">N829S</text>
<rect x="17.40" y="619.30" width="41.90" height="7.40" fill="#333333"/>
<text x="61.80" y="624.40" font-size="6.5" font-weight="bold" fill="#111" style="stroke-width:0.140px">P780L</text>
<rect x="15.30" y="636.50" width="44.00" height="7.40" fill="#333333"/>
<text x="61.80" y="641.60" font-size="6.5" font-weight="bold" fill="#111" style="stroke-width:0.140px">E722K</text>
<rect x="2.50" y="653.60" width="56.80" height="7.40" fill="#333333"/>
<text x="61.80" y="658.70" font-size="6.5" font-weight="bold" fill="#111" style="stroke-width:0.140px">K700E</text>
<line x1="0.00" y1="665.50" x2="61.30" y2="665.50" stroke="#333" stroke-width="0.6"/>
<line x1="18.40" y1="665.50" x2="18.40" y2="667.00" stroke="#333" stroke-width="0.5"/>
<text x="18.40" y="671.80" font-size="3.5" text-anchor="middle" fill="#444" style="stroke-width:0.056px">1000</text>
<line x1="38.80" y1="665.50" x2="38.80" y2="667.00" stroke="#333" stroke-width="0.5"/>
<text x="38.80" y="671.80" font-size="3.5" text-anchor="middle" fill="#444" style="stroke-width:0.056px">500</text>
<line x1="58.90" y1="665.50" x2="58.90" y2="667.00" stroke="#333" stroke-width="0.5"/>
<text x="58.90" y="671.80" font-size="3.5" text-anchor="middle" fill="#444" style="stroke-width:0.056px">0</text>
<text x="14.70" y="685.40" font-size="9.0" fill="#111" style="stroke-width:0.140px">Set Size</text>
<defs>
<clipPath id="cP"><circle cx="156.9" cy="420.4" r="39.3"/></clipPath>
<clipPath id="cN"><circle cx="196.1" cy="420.4" r="39.5"/></clipPath>
<clipPath id="cE"><circle cx="176.2" cy="453.4" r="39.2"/></clipPath>
</defs>
<circle cx="156.9" cy="420.4" r="39.3" fill="#b97bb9"/>
<circle cx="196.1" cy="420.4" r="39.5" fill="#7f7fbd"/>
<circle cx="176.2" cy="453.4" r="39.2" fill="#fdd6df"/>
<g clip-path="url(#cP)">
<circle cx="196.1" cy="420.4" r="39.5" fill="#5b3b98"/>
<circle cx="176.2" cy="453.4" r="39.2" fill="#d98abb"/>
</g>
<g clip-path="url(#cN)">
<circle cx="176.2" cy="453.4" r="39.2" fill="#bc8fc0"/>
</g>
<g clip-path="url(#cP)"><g clip-path="url(#cN)">
<circle cx="176.2" cy="453.4" r="39.2" fill="#a96fa9"/>
</g></g>
<circle cx="156.9" cy="420.4" r="39.3" fill="none" stroke="#222" stroke-width="0.6"/>
<circle cx="196.1" cy="420.4" r="39.5" fill="none" stroke="#222" stroke-width="0.6"/>
<circle cx="176.2" cy="453.4" r="39.2" fill="none" stroke="#222" stroke-width="0.6"/>
<text x="139.4" y="412.7" font-size="7" font-family="Liberation Serif, serif" text-anchor="middle" fill="#000" style="stroke-width:0.03px">703</text>
<text x="176.6" y="402.8" font-size="7" font-family="Liberation Serif, serif" text-anchor="middle" fill="#000" style="stroke-width:0.03px">124</text>
<text x="213.2" y="412.7" font-size="7" font-family="Liberation Serif, serif" text-anchor="middle" fill="#000" style="stroke-width:0.03px">554</text>
<text x="176.2" y="433.5" font-size="7" font-family="Liberation Serif, serif" text-anchor="middle" fill="#000" style="stroke-width:0.03px">84</text>
<text x="149.3" y="449.2" font-size="7" font-family="Liberation Serif, serif" text-anchor="middle" fill="#000" style="stroke-width:0.03px">121</text>
<text x="203.6" y="449.2" font-size="7" font-family="Liberation Serif, serif" text-anchor="middle" fill="#000" style="stroke-width:0.03px">124</text>
<text x="176.6" y="475.7" font-size="7" font-family="Liberation Serif, serif" text-anchor="middle" fill="#000" style="stroke-width:0.03px">746</text>
<text x="102.50" y="379.90" font-size="9" font-weight="bold" fill="#111" style="stroke-width:0.140px">P780L</text>
<text x="222.60" y="378.60" font-size="9" font-weight="bold" fill="#111" style="stroke-width:0.140px">N829S</text>
<text x="178.00" y="503.90" font-size="9" font-weight="bold" fill="#111" style="stroke-width:0.140px">E722K</text>
<text x="486.30" y="358.70" font-size="17" font-weight="bold" fill="#000" style="stroke-width:0.140px">F</text>
<rect x="572.4" y="346.5" width="112.30" height="540.70" fill="#fff"/>
<line x1="588.40" y1="346.50" x2="588.40" y2="887.20" stroke="#ebebeb" stroke-width="0.6"/>
<line x1="607.90" y1="346.50" x2="607.90" y2="887.20" stroke="#ebebeb" stroke-width="0.6"/>
<line x1="627.40" y1="346.50" x2="627.40" y2="887.20" stroke="#ebebeb" stroke-width="0.6"/>
<line x1="647.30" y1="346.50" x2="647.30" y2="887.20" stroke="#ebebeb" stroke-width="0.6"/>
<line x1="666.80" y1="346.50" x2="666.80" y2="887.20" stroke="#ebebeb" stroke-width="0.6"/>
<line x1="572.40" y1="357.00" x2="684.70" y2="357.00" stroke="#ebebeb" stroke-width="0.6"/>
<line x1="572.40" y1="374.93" x2="684.70" y2="374.93" stroke="#ebebeb" stroke-width="0.6"/>
<line x1="572.40" y1="392.86" x2="684.70" y2="392.86" stroke="#ebebeb" stroke-width="0.6"/>
<line x1="572.40" y1="410.78" x2="684.70" y2="410.78" stroke="#ebebeb" stroke-width="0.6"/>
<line x1="572.40" y1="428.71" x2="684.70" y2="428.71" stroke="#ebebeb" stroke-width="0.6"/>
<line x1="572.40" y1="446.64" x2="684.70" y2="446.64" stroke="#ebebeb" stroke-width="0.6"/>
<line x1="572.40" y1="464.57" x2="684.70" y2="464.57" stroke="#ebebeb" stroke-width="0.6"/>
<line x1="572.40" y1="482.49" x2="684.70" y2="482.49" stroke="#ebebeb" stroke-width="0.6"/>
<line x1="572.40" y1="500.42" x2="684.70" y2="500.42" stroke="#ebebeb" stroke-width="0.6"/>
<line x1="572.40" y1="518.35" x2="684.70" y2="518.35" stroke="#ebebeb" stroke-width="0.6"/>
<line x1="572.40" y1="536.28" x2="684.70" y2="536.28" stroke="#ebebeb" stroke-width="0.6"/>
<line x1="572.40" y1="554.20" x2="684.70" y2="554.20" stroke="#ebebeb" stroke-width="0.6"/>
<line x1="572.40" y1="572.13" x2="684.70" y2="572.13" stroke="#ebebeb" stroke-width="0.6"/>
<line x1="572.40" y1="590.06" x2="684.70" y2="590.06" stroke="#ebebeb" stroke-width="0.6"/>
<line x1="572.40" y1="607.99" x2="684.70" y2="607.99" stroke="#ebebeb" stroke-width="0.6"/>
<line x1="572.40" y1="625.91" x2="684.70" y2="625.91" stroke="#ebebeb" stroke-width="0.6"/>
<line x1="572.40" y1="643.84" x2="684.70" y2="643.84" stroke="#ebebeb" stroke-width="0.6"/>
<line x1="572.40" y1="661.77" x2="684.70" y2="661.77" stroke="#ebebeb" stroke-width="0.6"/>
<line x1="572.40" y1="679.70" x2="684.70" y2="679.70" stroke="#ebebeb" stroke-width="0.6"/>
<line x1="572.40" y1="697.62" x2="684.70" y2="697.62" stroke="#ebebeb" stroke-width="0.6"/>
<line x1="572.40" y1="715.55" x2="684.70" y2="715.55" stroke="#ebebeb" stroke-width="0.6"/>
<line x1="572.40" y1="733.48" x2="684.70" y2="733.48" stroke="#ebebeb" stroke-width="0.6"/>
<line x1="572.40" y1="751.41" x2="684.70" y2="751.41" stroke="#ebebeb" stroke-width="0.6"/>
<line x1="572.40" y1="769.33" x2="684.70" y2="769.33" stroke="#ebebeb" stroke-width="0.6"/>
<line x1="572.40" y1="787.26" x2="684.70" y2="787.26" stroke="#ebebeb" stroke-width="0.6"/>
<line x1="572.40" y1="805.19" x2="684.70" y2="805.19" stroke="#ebebeb" stroke-width="0.6"/>
<line x1="572.40" y1="823.12" x2="684.70" y2="823.12" stroke="#ebebeb" stroke-width="0.6"/>
<line x1="572.40" y1="841.04" x2="684.70" y2="841.04" stroke="#ebebeb" stroke-width="0.6"/>
<line x1="572.40" y1="858.97" x2="684.70" y2="858.97" stroke="#ebebeb" stroke-width="0.6"/>
<line x1="572.40" y1="876.90" x2="684.70" y2="876.90" stroke="#ebebeb" stroke-width="0.6"/>
<rect x="572.4" y="346.5" width="112.30" height="540.70" fill="none" stroke="#9a9a9a" stroke-width="0.8"/>
<line x1="570.20" y1="357.00" x2="572.40" y2="357.00" stroke="#444" stroke-width="0.5"/>
<text x="569.60" y="356.20" font-size="5.6" text-anchor="end" fill="#111" style="stroke-width:0.06px">Eukaryotic Translation</text>
<text x="569.60" y="361.80" font-size="5.6" text-anchor="end" fill="#111" style="stroke-width:0.06px">Elongation</text>
<circle cx="679.8" cy="357.00" r="2.45" fill="#e26464" stroke="#3a2020" stroke-width="0.45"/>
<line x1="570.20" y1="374.93" x2="572.40" y2="374.93" stroke="#444" stroke-width="0.5"/>
<text x="569.60" y="371.33" font-size="5.6" text-anchor="end" fill="#111" style="stroke-width:0.06px">L13a−mediated translational</text>
<text x="569.60" y="376.93" font-size="5.6" text-anchor="end" fill="#111" style="stroke-width:0.06px">silencing of Ceruloplasmin</text>
<text x="569.60" y="382.53" font-size="5.6" text-anchor="end" fill="#111" style="stroke-width:0.06px">expression</text>
<circle cx="676.6" cy="374.93" r="2.6" fill="#e26464" stroke="#3a2020" stroke-width="0.45"/>
<line x1="570.20" y1="392.86" x2="572.40" y2="392.86" stroke="#444" stroke-width="0.5"/>
<text x="569.60" y="392.06" font-size="5.6" text-anchor="end" fill="#111" style="stroke-width:0.06px">GTP hydrolysis and joining</text>
<text x="569.60" y="397.66" font-size="5.6" text-anchor="end" fill="#111" style="stroke-width:0.06px">of the 60S ribosomal subunit</text>
<circle cx="675.0" cy="392.86" r="2.6" fill="#e26464" stroke="#3a2020" stroke-width="0.45"/>
<line x1="570.20" y1="410.78" x2="572.40" y2="410.78" stroke="#444" stroke-width="0.5"/>
<text x="569.60" y="412.78" font-size="5.6" text-anchor="end" fill="#111" style="stroke-width:0.06px">Viral mRNA Translation</text>
<circle cx="673.3" cy="410.78" r="2.2" fill="#e26464" stroke="#3a2020" stroke-width="0.45"/>
<line x1="570.20" y1="428.71" x2="572.40" y2="428.71" stroke="#444" stroke-width="0.5"/>
<text x="569.60" y="427.91" font-size="5.6" text-anchor="end" fill="#111" style="stroke-width:0.06px">Formation of a pool of free</text>
<text x="569.60" y="433.51" font-size="5.6" text-anchor="end" fill="#111" style="stroke-width:0.06px">40S subunits</text>
<circle cx="671.9" cy="428.71" r="2.4" fill="#e26464" stroke="#3a2020" stroke-width="0.45"/>
<line x1="570.20" y1="446.64" x2="572.40" y2="446.64" stroke="#444" stroke-width="0.5"/>
<text x="569.60" y="445.84" font-size="5.6" text-anchor="end" fill="#111" style="stroke-width:0.06px">Response of EIF2AK4 (GCN2)</text>
<text x="569.60" y="451.44" font-size="5.6" text-anchor="end" fill="#111" style="stroke-width:0.06px">to amino acid deficiency</text>
<circle cx="668.0" cy="446.64" r="2.4" fill="#e26464" stroke="#3a2020" stroke-width="0.45"/>
<line x1="570.20" y1="464.57" x2="572.40" y2="464.57" stroke="#444" stroke-width="0.5"/>
<text x="569.60" y="463.77" font-size="5.6" text-anchor="end" fill="#111" style="stroke-width:0.06px">Eukaryotic Translation</text>
<text x="569.60" y="469.37" font-size="5.6" text-anchor="end" fill="#111" style="stroke-width:0.06px">Termination</text>
<circle cx="667.1" cy="464.57" r="2.4" fill="#e26464" stroke="#3a2020" stroke-width="0.45"/>
<line x1="570.20" y1="482.49" x2="572.40" y2="482.49" stroke="#444" stroke-width="0.5"/>
<text x="569.60" y="481.69" font-size="5.6" text-anchor="end" fill="#111" style="stroke-width:0.06px">Eukaryotic Translation</text>
<text x="569.60" y="487.29" font-size="5.6" text-anchor="end" fill="#111" style="stroke-width:0.06px">Initiation</text>
<circle cx="666.6" cy="482.49" r="2.7" fill="#e26464" stroke="#3a2020" stroke-width="0.45"/>
<line x1="570.20" y1="500.42" x2="572.40" y2="500.42" stroke="#444" stroke-width="0.5"/>
<text x="569.60" y="499.62" font-size="5.6" text-anchor="end" fill="#111" style="stroke-width:0.06px">Translation initiation</text>
<text x="569.60" y="505.22" font-size="5.6" text-anchor="end" fill="#111" style="stroke-width:0.06px">complex formation</text>
<circle cx="662.4" cy="500.42" r="1.9" fill="#e26464" stroke="#3a2020" stroke-width="0.45"/>
<line x1="570.20" y1="518.35" x2="572.40" y2="518.35" stroke="#444" stroke-width="0.5"/>
<text x="569.60" y="520.35" font-size="5.6" text-anchor="end" fill="#111" style="stroke-width:0.06px">Influenza Infection</text>
<circle cx="661.0" cy="518.35" r="2.9" fill="#e26464" stroke="#3a2020" stroke-width="0.45"/>
<line x1="570.20" y1="536.28" x2="572.40" y2="536.28" stroke="#444" stroke-width="0.5"/>
<text x="569.60" y="538.28" font-size="5.6" text-anchor="end" fill="#111" style="stroke-width:0.06px">Selenoamino acid metabolism</text>
<circle cx="660.1" cy="536.28" r="2.5" fill="#e26464" stroke="#3a2020" stroke-width="0.45"/>
<line x1="570.20" y1="554.20" x2="572.40" y2="554.20" stroke="#444" stroke-width="0.5"/>
<text x="569.60" y="550.60" font-size="5.6" text-anchor="end" fill="#111" style="stroke-width:0.06px">SRP−dependent</text>
<text x="569.60" y="556.20" font-size="5.6" text-anchor="end" fill="#111" style="stroke-width:0.06px">cotranslational protein</text>
<text x="569.60" y="561.80" font-size="5.6" text-anchor="end" fill="#111" style="stroke-width:0.06px">targeting to membrane</text>
<circle cx="654.3" cy="554.20" r="2.5" fill="#e26464" stroke="#3a2020" stroke-width="0.45"/>
<line x1="570.20" y1="572.13" x2="572.40" y2="572.13" stroke="#444" stroke-width="0.5"/>
<text x="569.60" y="574.13" font-size="5.6" text-anchor="end" fill="#111" style="stroke-width:0.06px">Nonsense−Mediated Decay (NMD)</text>
<circle cx="651.2" cy="572.13" r="2.6" fill="#e26464" stroke="#3a2020" stroke-width="0.45"/>
<line x1="570.20" y1="590.06" x2="572.40" y2="590.06" stroke="#444" stroke-width="0.5"/>
<text x="569.60" y="586.46" font-size="5.6" text-anchor="end" fill="#111" style="stroke-width:0.06px">Formation of the ternary</text>
<text x="569.60" y="592.06" font-size="5.6" text-anchor="end" fill="#111" style="stroke-width:0.06px">complex, and subsequently,</text>
<text x="569.60" y="597.66" font-size="5.6" text-anchor="end" fill="#111" style="stroke-width:0.06px">the 43S complex</text>
<circle cx="650.3" cy="590.06" r="1.6" fill="#e26464" stroke="#3a2020" stroke-width="0.45"/>
<line x1="570.20" y1="607.99" x2="572.40" y2="607.99" stroke="#444" stroke-width="0.5"/>
<text x="569.60" y="607.19" font-size="5.6" text-anchor="end" fill="#111" style="stroke-width:0.06px">Cellular response to</text>
<text x="569.60" y="612.79" font-size="5.6" text-anchor="end" fill="#111" style="stroke-width:0.06px">starvation</text>
<circle cx="644.5" cy="607.99" r="2.8" fill="#e26464" stroke="#3a2020" stroke-width="0.45"/>
<line x1="570.20" y1="625.91" x2="572.40" y2="625.91" stroke="#444" stroke-width="0.5"/>
<text x="569.60" y="627.91" font-size="5.6" text-anchor="end" fill="#111" style="stroke-width:0.06px">SARS−CoV−1−host interactions</text>
<circle cx="636.8" cy="625.91" r="2.3" fill="#e26464" stroke="#3a2020" stroke-width="0.45"/>
<line x1="570.20" y1="643.84" x2="572.40" y2="643.84" stroke="#444" stroke-width="0.5"/>
<text x="569.60" y="643.04" font-size="5.6" text-anchor="end" fill="#111" style="stroke-width:0.06px">rRNA processing in the</text>
<text x="569.60" y="648.64" font-size="5.6" text-anchor="end" fill="#111" style="stroke-width:0.06px">nucleus and cytosol</text>
<circle cx="633.7" cy="643.84" r="2.9" fill="#e26464" stroke="#3a2020" stroke-width="0.45"/>
<line x1="570.20" y1="661.77" x2="572.40" y2="661.77" stroke="#444" stroke-width="0.5"/>
<text x="569.60" y="663.77" font-size="5.6" text-anchor="end" fill="#111" style="stroke-width:0.06px">Ribosome</text>
<circle cx="626.7" cy="661.77" r="2.6" fill="#e26464" stroke="#3a2020" stroke-width="0.45"/>
<line x1="570.20" y1="679.70" x2="572.40" y2="679.70" stroke="#444" stroke-width="0.5"/>
<text x="569.60" y="678.90" font-size="5.6" text-anchor="end" fill="#111" style="stroke-width:0.06px">Regulation of expression of</text>
<text x="569.60" y="684.50" font-size="5.6" text-anchor="end" fill="#111" style="stroke-width:0.06px">SLITs and ROBOs</text>
<circle cx="621.1" cy="679.70" r="2.4" fill="#e26464" stroke="#3a2020" stroke-width="0.45"/>
<line x1="570.20" y1="697.62" x2="572.40" y2="697.62" stroke="#444" stroke-width="0.5"/>
<text x="569.60" y="699.62" font-size="5.6" text-anchor="end" fill="#111" style="stroke-width:0.06px">Translation</text>
<circle cx="616.7" cy="697.62" r="2.9" fill="#e26464" stroke="#3a2020" stroke-width="0.45"/>
<line x1="570.20" y1="715.55" x2="572.40" y2="715.55" stroke="#444" stroke-width="0.5"/>
<text x="569.60" y="717.55" font-size="5.6" text-anchor="end" fill="#111" style="stroke-width:0.06px">Metabolism of RNA</text>
<circle cx="607.0" cy="715.55" r="4.2" fill="#e26464" stroke="#3a2020" stroke-width="0.45"/>
<line x1="570.20" y1="733.48" x2="572.40" y2="733.48" stroke="#444" stroke-width="0.5"/>
<text x="569.60" y="735.48" font-size="5.6" text-anchor="end" fill="#111" style="stroke-width:0.06px">Signaling by ROBO receptors</text>
<circle cx="603.5" cy="733.48" r="2.6" fill="#e26464" stroke="#3a2020" stroke-width="0.45"/>
<line x1="570.20" y1="751.41" x2="572.40" y2="751.41" stroke="#444" stroke-width="0.5"/>
<text x="569.60" y="750.61" font-size="5.6" text-anchor="end" fill="#111" style="stroke-width:0.06px">Processing of Capped</text>
<text x="569.60" y="756.21" font-size="5.6" text-anchor="end" fill="#111" style="stroke-width:0.06px">Intron−Containing Pre−mRNA</text>
<circle cx="599.2" cy="751.41" r="2.7" fill="#e26464" stroke="#3a2020" stroke-width="0.45"/>
<line x1="570.20" y1="769.33" x2="572.40" y2="769.33" stroke="#444" stroke-width="0.5"/>
<text x="569.60" y="771.33" font-size="5.6" text-anchor="end" fill="#111" style="stroke-width:0.06px">rRNA processing</text>
<circle cx="597.1" cy="769.33" r="2.1" fill="#e26464" stroke="#3a2020" stroke-width="0.45"/>
<line x1="570.20" y1="787.26" x2="572.40" y2="787.26" stroke="#444" stroke-width="0.5"/>
<text x="569.60" y="789.26" font-size="5.6" text-anchor="end" fill="#111" style="stroke-width:0.06px">DNA Repair</text>
<circle cx="592.7" cy="787.26" r="2.6" fill="#e26464" stroke="#3a2020" stroke-width="0.45"/>
<line x1="570.20" y1="805.19" x2="572.40" y2="805.19" stroke="#444" stroke-width="0.5"/>
<text x="569.60" y="804.39" font-size="5.6" text-anchor="end" fill="#111" style="stroke-width:0.06px">regulation of DNA metabolic</text>
<text x="569.60" y="809.99" font-size="5.6" text-anchor="end" fill="#111" style="stroke-width:0.06px">process</text>
<circle cx="588.7" cy="805.19" r="2.9" fill="#e26464" stroke="#3a2020" stroke-width="0.45"/>
<line x1="570.20" y1="823.12" x2="572.40" y2="823.12" stroke="#444" stroke-width="0.5"/>
<text x="569.60" y="825.12" font-size="5.6" text-anchor="end" fill="#111" style="stroke-width:0.06px">Cellular responses to stress</text>
<circle cx="587.8" cy="823.12" r="3.5" fill="#e26464" stroke="#3a2020" stroke-width="0.45"/>
<line x1="570.20" y1="841.04" x2="572.40" y2="841.04" stroke="#444" stroke-width="0.5"/>
<text x="569.60" y="843.04" font-size="5.6" text-anchor="end" fill="#111" style="stroke-width:0.06px">Cell Cycle</text>
<circle cx="582.2" cy="841.04" r="3.3" fill="#e26464" stroke="#3a2020" stroke-width="0.45"/>
<line x1="570.20" y1="858.97" x2="572.40" y2="858.97" stroke="#444" stroke-width="0.5"/>
<text x="569.60" y="860.97" font-size="5.6" text-anchor="end" fill="#111" style="stroke-width:0.06px">Axon guidance</text>
<circle cx="577.5" cy="858.97" r="3.25" fill="#357dc4" stroke="#3a2020" stroke-width="0.45"/>
<line x1="570.20" y1="876.90" x2="572.40" y2="876.90" stroke="#444" stroke-width="0.5"/>
<text x="569.60" y="878.90" font-size="5.6" text-anchor="end" fill="#111" style="stroke-width:0.06px">Nervous system development</text>
<circle cx="577.5" cy="876.90" r="3.25" fill="#5a7ec0" stroke="#3a2020" stroke-width="0.45"/>
<line x1="607.90" y1="887.20" x2="607.90" y2="889.00" stroke="#444" stroke-width="0.5"/>
<text x="607.90" y="894.00" font-size="5.6" text-anchor="middle" fill="#333" style="stroke-width:0.090px">0.2</text>
<line x1="647.30" y1="887.20" x2="647.30" y2="889.00" stroke="#444" stroke-width="0.5"/>
<text x="647.30" y="894.00" font-size="5.6" text-anchor="middle" fill="#333" style="stroke-width:0.090px">0.3</text>
<text x="628.10" y="899.60" font-size="6.0" text-anchor="middle" fill="#222" style="stroke-width:0.140px">GeneRatio</text>
<rect x="655.50" y="786.00" width="28.60" height="83.00" fill="#fff"/>
<text x="659.60" y="793.60" font-size="5.4" fill="#222" style="stroke-width:0.086px">p.adjust</text>
<defs><linearGradient id="pg" x1="0" y1="0" x2="0" y2="1"><stop offset="0" stop-color="#e25b5b"/><stop offset="0.5" stop-color="#a46188"/><stop offset="1" stop-color="#3a7bc0"/></linearGradient></defs>
<rect x="659.60" y="795.40" width="8.40" height="38.40" fill="url(#pg)"/>
<line x1="666.40" y1="808.40" x2="668.00" y2="808.40" stroke="#fff" stroke-width="0.4"/>
<text x="670.10" y="809.90" font-size="4.3" fill="#333" style="stroke-width:0.069px">0.01</text>
<line x1="666.40" y1="820.60" x2="668.00" y2="820.60" stroke="#fff" stroke-width="0.4"/>
<text x="670.10" y="822.10" font-size="4.3" fill="#333" style="stroke-width:0.069px">0.02</text>
<line x1="666.40" y1="832.90" x2="668.00" y2="832.90" stroke="#fff" stroke-width="0.4"/>
<text x="670.10" y="834.40" font-size="4.3" fill="#333" style="stroke-width:0.069px">0.03</text>
<text x="659.60" y="848.20" font-size="5.6" fill="#222" style="stroke-width:0.090px">Count</text>
<circle cx="664.5" cy="853.8" r="2.8" fill="#fff" stroke="#333" stroke-width="0.5"/>
<circle cx="664.5" cy="862.2" r="3.6" fill="#fff" stroke="#333" stroke-width="0.5"/>
<text x="671.90" y="855.40" font-size="4.3" fill="#333" style="stroke-width:0.069px">50</text>
<text x="671.90" y="863.50" font-size="4.3" fill="#333" style="stroke-width:0.069px">100</text>
<text x="11.90" y="723.70" font-size="17" font-weight="bold" fill="#000" style="stroke-width:0.140px">G</text>
<text x="138.80" y="724.90" font-size="9" fill="#111" style="stroke-width:0.140px">SE (n=37)</text>
<rect x="73.3" y="731.6" width="187.80" height="139.60" fill="#fff" stroke="#555" stroke-width="0.8"/>
<text x="79.90" y="749.00" font-size="9" font-weight="bold" fill="#111" style="stroke-width:0.140px">Patient samples</text>
<line x1="71.60" y1="740.50" x2="73.30" y2="740.50" stroke="#555" stroke-width="0.5"/>
<text x="69.90" y="742.00" font-size="4.3" text-anchor="end" fill="#333" style="stroke-width:0.069px">0.3</text>
<line x1="71.60" y1="757.94" x2="73.30" y2="757.94" stroke="#555" stroke-width="0.5"/>
<text x="69.90" y="759.44" font-size="4.3" text-anchor="end" fill="#333" style="stroke-width:0.069px">0.2</text>
<line x1="71.60" y1="775.38" x2="73.30" y2="775.38" stroke="#555" stroke-width="0.5"/>
<text x="69.90" y="776.88" font-size="4.3" text-anchor="end" fill="#333" style="stroke-width:0.069px">0.1</text>
<line x1="71.60" y1="792.82" x2="73.30" y2="792.82" stroke="#555" stroke-width="0.5"/>
<text x="69.90" y="794.32" font-size="4.3" text-anchor="end" fill="#333" style="stroke-width:0.069px">0.0</text>
<line x1="71.60" y1="810.26" x2="73.30" y2="810.26" stroke="#555" stroke-width="0.5"/>
<text x="69.90" y="811.76" font-size="4.3" text-anchor="end" fill="#333" style="stroke-width:0.069px">−0.1</text>
<line x1="71.60" y1="827.70" x2="73.30" y2="827.70" stroke="#555" stroke-width="0.5"/>
<text x="69.90" y="829.20" font-size="4.3" text-anchor="end" fill="#333" style="stroke-width:0.069px">−0.2</text>
<line x1="71.60" y1="845.14" x2="73.30" y2="845.14" stroke="#555" stroke-width="0.5"/>
<text x="69.90" y="846.64" font-size="4.3" text-anchor="end" fill="#333" style="stroke-width:0.069px">−0.3</text>
<line x1="71.60" y1="862.58" x2="73.30" y2="862.58" stroke="#555" stroke-width="0.5"/>
<text x="69.90" y="864.08" font-size="4.3" text-anchor="end" fill="#333" style="stroke-width:0.069px">−0.4</text>
<line x1="91.90" y1="871.20" x2="91.90" y2="872.90" stroke="#555" stroke-width="0.5"/>
<text x="91.90" y="878.10" font-size="4.3" text-anchor="middle" fill="#333" style="stroke-width:0.069px">−0.8</text>
<line x1="123.00" y1="871.20" x2="123.00" y2="872.90" stroke="#555" stroke-width="0.5"/>
<text x="123.00" y="878.10" font-size="4.3" text-anchor="middle" fill="#333" style="stroke-width:0.069px">−0.6</text>
<line x1="153.80" y1="871.20" x2="153.80" y2="872.90" stroke="#555" stroke-width="0.5"/>
<text x="153.80" y="878.10" font-size="4.3" text-anchor="middle" fill="#333" style="stroke-width:0.069px">−0.4</text>
<line x1="184.40" y1="871.20" x2="184.40" y2="872.90" stroke="#555" stroke-width="0.5"/>
<text x="184.40" y="878.10" font-size="4.3" text-anchor="middle" fill="#333" style="stroke-width:0.069px">−0.2</text>
<line x1="215.60" y1="871.20" x2="215.60" y2="872.90" stroke="#555" stroke-width="0.5"/>
<text x="215.60" y="878.10" font-size="4.3" text-anchor="middle" fill="#333" style="stroke-width:0.069px">0.0</text>
<line x1="246.70" y1="871.20" x2="246.70" y2="872.90" stroke="#555" stroke-width="0.5"/>
<text x="246.70" y="878.10" font-size="4.3" text-anchor="middle" fill="#333" style="stroke-width:0.069px">0.2</text>
<text x="113.60" y="894.10" font-size="9" fill="#111" style="stroke-width:0.140px">Principal Component 1 : 37%</text>
<text transform="translate(51.2,807.1) rotate(-90)" font-size="9" text-anchor="middle" fill="#111">Principal Component 2 : 13%</text>
<circle cx="227.1" cy="740.7" r="1.5" fill="#2200e6"/>
<circle cx="234.4" cy="737.8" r="1.5" fill="#2200e6"/>
<circle cx="233.6" cy="762.4" r="1.5" fill="#2200e6"/>
<circle cx="245.6" cy="770.0" r="1.5" fill="#2200e6"/>
<circle cx="220.0" cy="772.9" r="1.5" fill="#2200e6"/>
<circle cx="222.7" cy="776.9" r="1.5" fill="#2200e6"/>
<circle cx="242.2" cy="783.1" r="1.5" fill="#2200e6"/>
<circle cx="226.2" cy="797.6" r="1.5" fill="#2200e6"/>
<circle cx="238.2" cy="802.7" r="1.5" fill="#2200e6"/>
<circle cx="236.2" cy="804.2" r="1.5" fill="#2200e6"/>
<circle cx="252.7" cy="812.7" r="1.5" fill="#2200e6"/>
<circle cx="248.2" cy="824.4" r="1.5" fill="#2200e6"/>
<circle cx="236.9" cy="845.3" r="1.5" fill="#2200e6"/>
<circle cx="219.6" cy="864.9" r="1.5" fill="#3a0a3a"/>
<line x1="88.70" y1="793.10" x2="91.60" y2="789.00" stroke="#222" stroke-width="0.5"/>
<line x1="81.70" y1="795.20" x2="84.60" y2="799.50" stroke="#222" stroke-width="0.5"/>
<circle cx="88.7" cy="793.1" r="1.7" fill="#f2e01a" stroke="#222" stroke-width="0.5"/>
<circle cx="81.7" cy="795.2" r="1.7" fill="#f2e01a" stroke="#222" stroke-width="0.5"/>
<text x="90.90" y="788.10" font-size="6.0" fill="#222" style="stroke-width:0.140px">P370L</text>
<text x="83.50" y="805.00" font-size="6.0" fill="#222" style="stroke-width:0.140px">N829S</text>
</svg></body></html>
